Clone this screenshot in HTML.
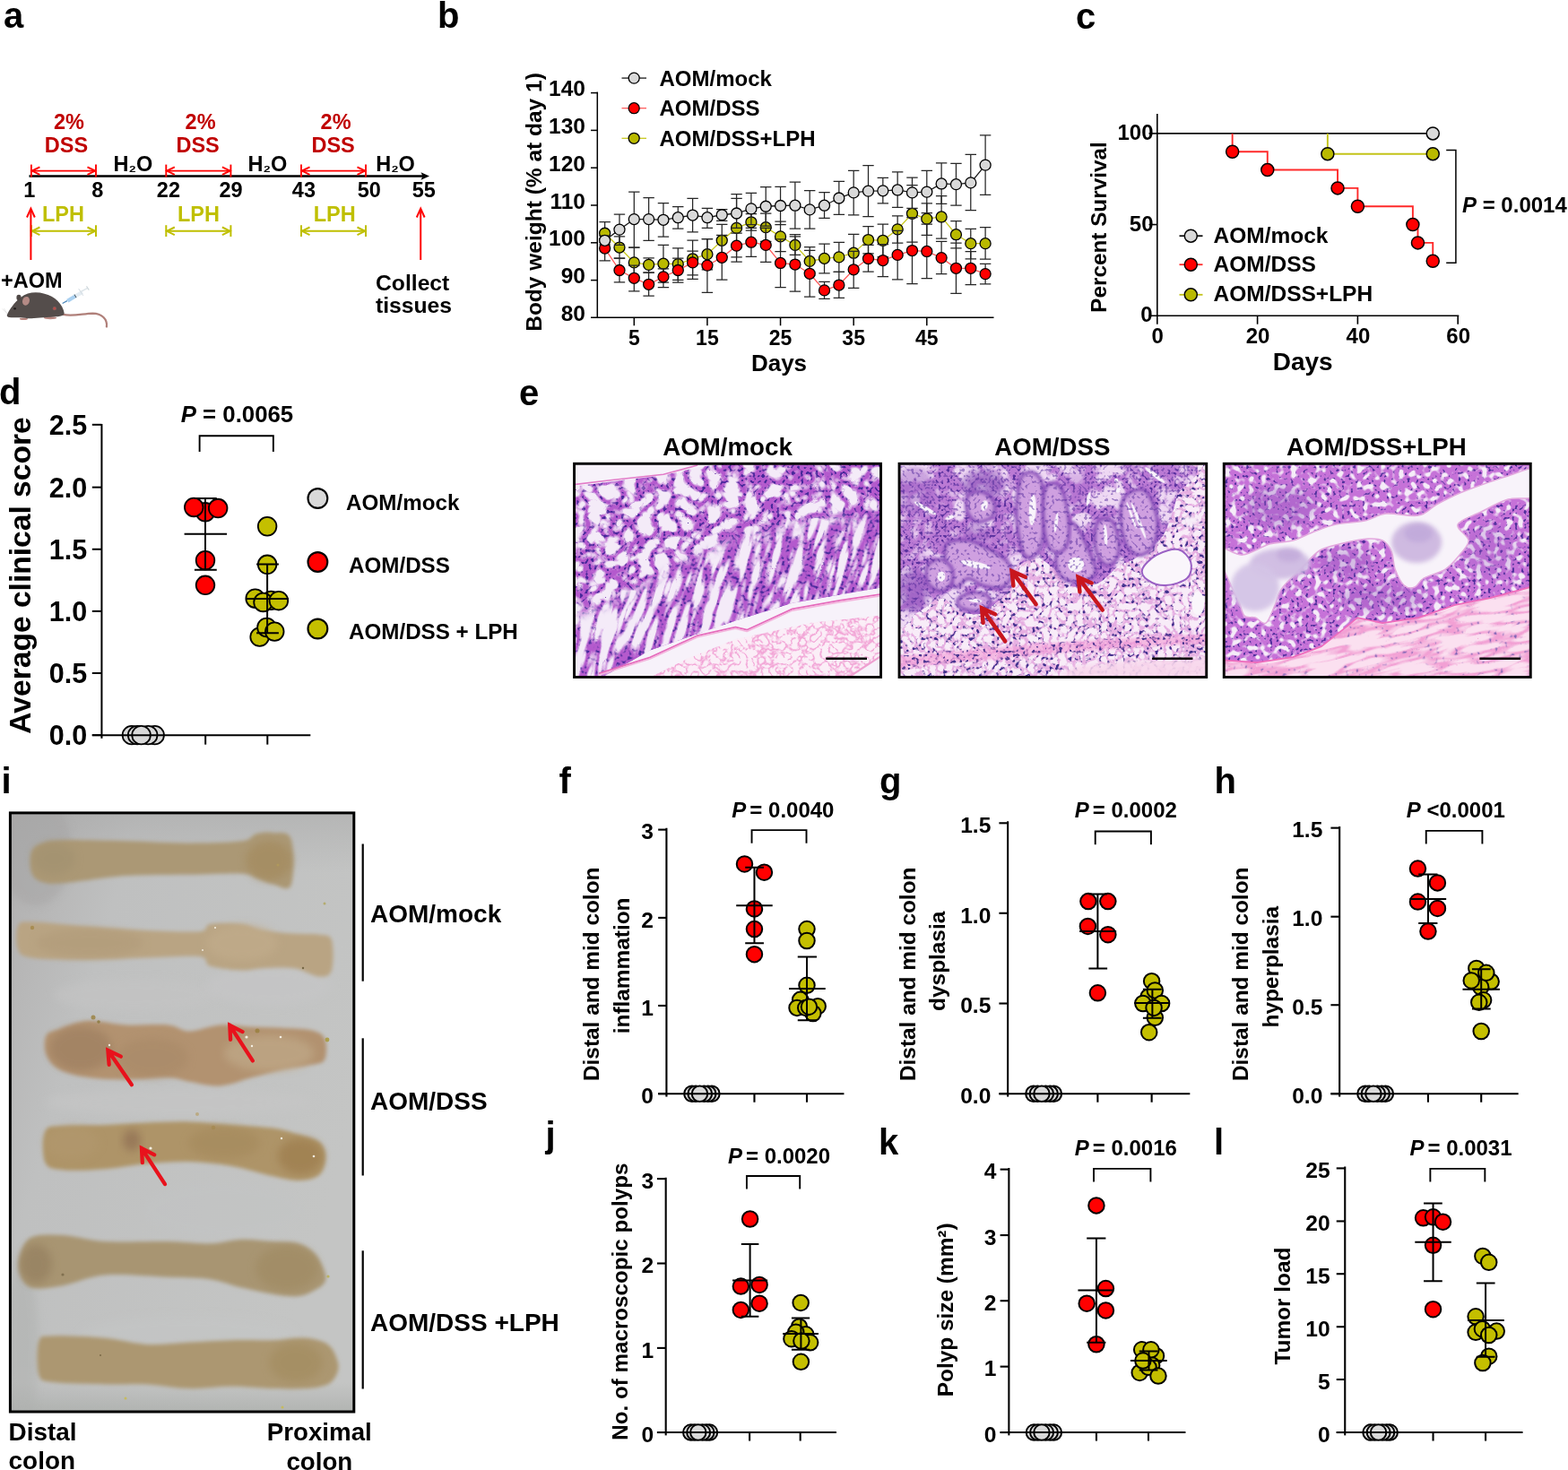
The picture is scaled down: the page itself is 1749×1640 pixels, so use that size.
<!DOCTYPE html>
<html lang="en">
<head>
<meta charset="utf-8">
<title>AOM/DSS colitis-associated tumorigenesis: effect of LPH</title>
<style>
html,body{margin:0;padding:0;background:#fff;}
body{width:1749px;height:1640px;overflow:hidden;}
svg{display:block;position:absolute;left:0;top:0;}
svg text{font-family:"Liberation Sans", Arial, Helvetica, sans-serif;font-weight:bold;}
</style>
</head>
<body>
<svg width="1749" height="1640" viewBox="0 0 1749 1640" role="img" aria-label="Figure panels a to l">
<defs>
<linearGradient id="ibg" x1="0" y1="0" x2="1" y2="0.5"><stop offset="0" stop-color="#b0afaf"/><stop offset="0.3" stop-color="#bfc0c0"/><stop offset="1" stop-color="#c4c5c4"/></linearGradient><linearGradient id="ibg2" x1="0" y1="0" x2="0" y2="1"><stop offset="0" stop-color="#a8a8a8" stop-opacity="0.5"/><stop offset="0.1" stop-color="#a8a8a8" stop-opacity="0"/><stop offset="0.95" stop-color="#a8aaa8" stop-opacity="0"/><stop offset="1" stop-color="#a4a8a4" stop-opacity="0.6"/></linearGradient>
<filter id="ibl" x="-5%" y="-20%" width="110%" height="140%"><feGaussianBlur stdDeviation="2.2"/></filter>
<filter id="ibl2" x="-30%" y="-30%" width="160%" height="160%"><feGaussianBlur stdDeviation="5"/></filter>
<clipPath id="iclip"><rect x="11" y="906.7" width="384" height="669"/></clipPath>
<filter id="eb1" x="-10%" y="-10%" width="120%" height="120%"><feGaussianBlur stdDeviation="0.7"/></filter>
<filter id="eb15" x="-10%" y="-10%" width="120%" height="120%"><feGaussianBlur stdDeviation="1.4"/></filter>
<filter id="eb2" x="-20%" y="-20%" width="140%" height="140%"><feGaussianBlur stdDeviation="2.5"/></filter>
<filter id="eb3" x="-20%" y="-20%" width="140%" height="140%"><feGaussianBlur stdDeviation="5"/></filter>
<clipPath id="ec0"><rect x="640.1" y="517" width="342.8" height="238.7"/></clipPath>
<clipPath id="h1t"><path d="M638.46 542.98L682.89 537.27L740.01 530.29L782.32 520.77L820.4 515.48L985.41 515.48L985.41 655.11L883.86 672.67L820.4 692.55L725.2 725.55L668.08 757.71L638.46 757.71Z"/></clipPath>
<mask id="h1lm" maskUnits="userSpaceOnUse" x="619.1" y="500" width="384.8" height="280"><path d="M608.84 698.47L682.89 673.09L735.78 643.47L820.4 601.16L905.02 582.12L1006.56 573.66L1006.56 787.33L608.84 787.33Z" fill="#fff" filter="url(#eb3)"/></mask>
<filter id="h1fa" x="0" y="0" width="100%" height="100%" color-interpolation-filters="sRGB"><feTurbulence type="turbulence" baseFrequency="0.052" numOctaves="2" seed="21" result="n"/><feColorMatrix in="n" type="matrix" values="0 0 0 0 0  0 0 0 0 0  0 0 0 0 0  4.6 0 0 0 -0.62" result="m"/><feFlood flood-color="#f4ebf8" result="w"/><feComposite in="w" in2="m" operator="in" result="wm"/><feFlood flood-color="#b45acd" result="p"/><feTurbulence type="fractalNoise" baseFrequency="0.3" numOctaves="1" seed="5" result="n2"/><feColorMatrix in="n2" type="matrix" values="0 0 0 0 0  0 0 0 0 0  0 0 0 0 0  0 0 9 0 -4.9" result="dm"/><feFlood flood-color="#47289a" result="df"/><feComposite in="df" in2="dm" operator="in" result="dd"/><feComposite in="dd" in2="m" operator="out" result="dw"/><feMerge><feMergeNode in="p"/><feMergeNode in="wm"/><feMergeNode in="dw"/></feMerge></filter>
<filter id="h1fb" x="0" y="0" width="100%" height="100%" color-interpolation-filters="sRGB"><feTurbulence type="turbulence" baseFrequency="0.08 0.017" numOctaves="2" seed="11" result="n"/><feColorMatrix in="n" type="matrix" values="0 0 0 0 0  0 0 0 0 0  0 0 0 0 0  4.6 0 0 0 -0.62" result="m"/><feFlood flood-color="#f4ebf8" result="w"/><feComposite in="w" in2="m" operator="in" result="wm"/><feFlood flood-color="#b45acd" result="p"/><feTurbulence type="fractalNoise" baseFrequency="0.3" numOctaves="1" seed="6" result="n2"/><feColorMatrix in="n2" type="matrix" values="0 0 0 0 0  0 0 0 0 0  0 0 0 0 0  0 0 9 0 -4.9" result="dm"/><feFlood flood-color="#47289a" result="df"/><feComposite in="df" in2="dm" operator="in" result="dd"/><feComposite in="dd" in2="m" operator="out" result="dw"/><feMerge><feMergeNode in="p"/><feMergeNode in="wm"/><feMergeNode in="dw"/></feMerge></filter>
<clipPath id="h1s"><path d="M720.97 757.71L767.51 734.44L820.4 713.28L905.02 694.67L985.41 686.2L985.41 727.03L947.33 757.71Z"/></clipPath>
<filter id="h1fs" x="0" y="0" width="100%" height="100%" color-interpolation-filters="sRGB"><feTurbulence type="turbulence" baseFrequency="0.12" numOctaves="2" seed="21" result="n"/><feColorMatrix in="n" type="matrix" values="0 0 0 0 0  0 0 0 0 0  0 0 0 0 0  4.5 0 0 0 -0.2" result="m"/><feFlood flood-color="#fbeef7" result="w"/><feComposite in="w" in2="m" operator="in" result="wm"/><feFlood flood-color="#f2a4d6" result="p"/><feMerge><feMergeNode in="p"/><feMergeNode in="wm"/></feMerge></filter>
<clipPath id="ec1"><rect x="1002.6" y="517" width="343.5" height="238.7"/></clipPath>
<filter id="h2fl" x="0" y="0" width="100%" height="100%" color-interpolation-filters="sRGB"><feTurbulence type="turbulence" baseFrequency="0.11" numOctaves="2" seed="9" result="n"/><feColorMatrix in="n" type="matrix" values="0 0 0 0 0  0 0 0 0 0  0 0 0 0 0  5.0 0 0 0 -0.62" result="m"/><feFlood flood-color="#f8ecf8" result="w"/><feComposite in="w" in2="m" operator="in" result="wm"/><feFlood flood-color="#e6aee2" result="p"/><feTurbulence type="fractalNoise" baseFrequency="0.27" numOctaves="1" seed="4" result="n2"/><feColorMatrix in="n2" type="matrix" values="0 0 0 0 0  0 0 0 0 0  0 0 0 0 0  0 0 9 0 -4.85" result="dm"/><feFlood flood-color="#3f2f8c" result="df"/><feComposite in="df" in2="dm" operator="in" result="dd"/><feComposite in="dd" in2="m" operator="out" result="dw"/><feMerge><feMergeNode in="p"/><feMergeNode in="wm"/><feMergeNode in="dw"/></feMerge></filter>
<clipPath id="h2g"><path d="M1000 515C1052.03 485.98 1260.16 508.33 1312.19 515C1364.22 521.67 1314.86 541.02 1312.19 555.02C1309.52 569.03 1303.85 587.71 1296.18 599.05C1288.51 610.39 1274.16 617.73 1266.16 623.06C1258.15 628.4 1255.15 626.4 1248.15 631.07C1241.14 635.74 1233.47 647.41 1224.13 651.08C1214.8 654.75 1200.12 655.75 1192.12 653.08C1184.11 650.41 1182.11 640.08 1176.11 635.07C1170.1 630.07 1163.43 623.06 1156.09 623.06C1148.76 623.06 1136.75 629.74 1132.08 635.07C1127.41 640.41 1132.08 648.41 1128.08 655.08C1124.07 661.75 1114.07 670.09 1108.06 675.1C1102.06 680.1 1098.73 684.1 1092.06 685.1C1085.38 686.1 1075.05 684.1 1068.04 681.1C1061.04 678.1 1057.37 666.76 1050.03 667.09C1042.69 667.42 1032.35 679.43 1024.01 683.1C1015.68 686.77 1004 717.12 1000 689.1C996 661.09 947.97 544.02 1000 515Z"/></clipPath>
<filter id="h2fa" x="0" y="0" width="100%" height="100%" color-interpolation-filters="sRGB"><feTurbulence type="turbulence" baseFrequency="0.035" numOctaves="3" seed="7" result="n"/><feColorMatrix in="n" type="matrix" values="0 0 0 0 0  0 0 0 0 0  0 0 0 0 0  4.2 0 0 0 -0.85" result="m"/><feFlood flood-color="#eed8f3" result="w"/><feComposite in="w" in2="m" operator="in" result="wm"/><feFlood flood-color="#bb7ad4" result="p"/><feTurbulence type="fractalNoise" baseFrequency="0.3" numOctaves="1" seed="8" result="n2"/><feColorMatrix in="n2" type="matrix" values="0 0 0 0 0  0 0 0 0 0  0 0 0 0 0  0 0 9 0 -5.05" result="dm"/><feFlood flood-color="#5b329f" result="df"/><feComposite in="df" in2="dm" operator="in" result="dd"/><feComposite in="dd" in2="m" operator="out" result="dw"/><feMerge><feMergeNode in="p"/><feMergeNode in="wm"/><feMergeNode in="dw"/></feMerge></filter>
<filter id="h2fn" x="0" y="0" width="100%" height="100%" color-interpolation-filters="sRGB"><feTurbulence type="fractalNoise" baseFrequency="0.3" numOctaves="1" seed="31" result="n"/><feColorMatrix in="n" type="matrix" values="0 0 0 0 0  0 0 0 0 0  0 0 0 0 0  0 0 9 0 -5.0" result="a"/><feFlood flood-color="#5a30a0" result="d"/><feComposite in="d" in2="a" operator="in"/></filter>
<filter id="h2fd" x="0" y="0" width="100%" height="100%" color-interpolation-filters="sRGB"><feTurbulence type="fractalNoise" baseFrequency="0.27" numOctaves="1" seed="19" result="n"/><feColorMatrix in="n" type="matrix" values="0 0 0 0 0  0 0 0 0 0  0 0 0 0 0  0 0 9 0 -5.2" result="a"/><feFlood flood-color="#4a3590" result="d"/><feComposite in="d" in2="a" operator="in"/></filter>
<clipPath id="h2b"><path d="M1000 732.13L1080.05 725.13L1160.1 718.12L1240.14 713.12L1352.21 707.12L1352.21 717.12L1240.14 724.13L1160.1 730.13L1080.05 738.13L1000 745.14Z"/></clipPath>
<clipPath id="ec2"><rect x="1364.8" y="517" width="342.8" height="238.7"/></clipPath>
<filter id="h3fa" x="0" y="0" width="100%" height="100%" color-interpolation-filters="sRGB"><feTurbulence type="fractalNoise" baseFrequency="0.15" numOctaves="1" seed="13" result="n"/><feColorMatrix in="n" type="matrix" values="0 0 0 0 0  0 0 0 0 0  0 0 0 0 0  7 0 0 0 -3.55" result="m"/><feFlood flood-color="#f5ecf8" result="w"/><feComposite in="w" in2="m" operator="in" result="wm"/><feFlood flood-color="#c672d8" result="p"/><feTurbulence type="fractalNoise" baseFrequency="0.3" numOctaves="1" seed="17" result="n2"/><feColorMatrix in="n2" type="matrix" values="0 0 0 0 0  0 0 0 0 0  0 0 0 0 0  0 0 9 0 -5.2" result="dm"/><feFlood flood-color="#50309c" result="df"/><feComposite in="df" in2="dm" operator="in" result="dd"/><feComposite in="dd" in2="m" operator="out" result="dw"/><feMerge><feMergeNode in="p"/><feMergeNode in="wm"/><feMergeNode in="dw"/></feMerge></filter>
<filter id="h3fm" x="0" y="0" width="100%" height="100%" color-interpolation-filters="sRGB"><feTurbulence type="turbulence" baseFrequency="0.02 0.09" numOctaves="2" seed="23" result="n"/><feColorMatrix in="n" type="matrix" values="0 0 0 0 0  0 0 0 0 0  0 0 0 0 0  4.0 0 0 0 -0.3" result="m"/><feFlood flood-color="#fbe0f0" result="w"/><feComposite in="w" in2="m" operator="in" result="wm"/><feFlood flood-color="#f2a0d4" result="p"/><feTurbulence type="fractalNoise" baseFrequency="0.25" numOctaves="1" seed="3" result="n2"/><feColorMatrix in="n2" type="matrix" values="0 0 0 0 0  0 0 0 0 0  0 0 0 0 0  0 0 9 0 -5.6" result="dm"/><feFlood flood-color="#7a62b4" result="df"/><feComposite in="df" in2="dm" operator="in" result="dd"/><feComposite in="dd" in2="m" operator="out" result="dw"/><feMerge><feMergeNode in="p"/><feMergeNode in="wm"/><feMergeNode in="dw"/></feMerge></filter>
<clipPath id="h3m"><path d="M1362 736.13L1402.02 739.13L1442.05 733.13L1474.07 721.12L1502.08 699.11L1514.09 689.1L1542.11 695.11L1582.13 689.1L1622.16 675.1L1662.18 667.09L1714.21 653.08L1714.21 763.15L1362 763.15Z"/></clipPath>
</defs>
<rect x="0" y="0" width="1749" height="1640" fill="#ffffff"/>
<rect x="11" y="906.7" width="384" height="669" fill="url(#ibg)"/><rect x="11" y="906.7" width="384" height="669" fill="url(#ibg2)"/>
<g clip-path="url(#iclip)">
<ellipse cx="210" cy="1490" rx="120" ry="22" fill="#c4c6c6" opacity="0.5" filter="url(#ibl2)"/>
<ellipse cx="250" cy="1350" rx="90" ry="30" fill="#c2c4c5" opacity="0.4" filter="url(#ibl2)"/>
<ellipse cx="150" cy="1110" rx="90" ry="18" fill="#c4c4c4" opacity="0.6" filter="url(#ibl2)"/>
<ellipse cx="300" cy="1100" rx="70" ry="22" fill="#c6c6c7" opacity="0.6" filter="url(#ibl2)"/>
<ellipse cx="200" cy="1230" rx="150" ry="16" fill="#c6c6c6" opacity="0.6" filter="url(#ibl2)"/>
<ellipse cx="40" cy="950" rx="40" ry="60" fill="#a4a3a3" opacity="0.5" filter="url(#ibl2)"/>
<ellipse cx="25" cy="1500" rx="18" ry="90" fill="#aeb0ae" opacity="0.5" filter="url(#ibl2)"/>
<g filter="url(#ibl)">
<path d="M35.16 950.09C37.12 944.62 41.02 942.86 46.88 940.71C52.74 938.56 54.7 937.58 70.32 937.19C85.95 936.8 117.21 937.78 140.65 938.37C164.09 938.95 189.48 940.71 210.97 940.71C232.46 940.71 257.07 940.12 269.57 938.37C282.08 936.61 280.12 931.72 285.98 930.16C291.84 928.6 298.29 928.01 304.74 928.99C311.18 929.97 321.34 926.25 324.66 936.02C327.98 945.79 327.98 979.19 324.66 987.59C321.34 995.99 311.18 987.79 304.74 986.42C298.29 985.05 291.84 981.34 285.98 979.39C280.12 977.43 282.08 975.29 269.57 974.7C257.07 974.11 232.46 975.48 210.97 975.87C189.48 976.26 164.09 975.48 140.65 977.04C117.21 978.61 85.95 984.08 70.32 985.25C54.7 986.42 52.74 986.03 46.88 984.08C41.02 982.12 37.12 979.19 35.16 973.53C33.21 967.86 33.21 955.56 35.16 950.09Z" fill="#ab9874"/>
<path d="M19.92 1033.3C22.46 1028.22 22.86 1028.61 35.16 1028.61C47.47 1028.61 72.28 1031.74 93.76 1033.3C115.25 1034.87 142.6 1037.01 164.09 1037.99C185.58 1038.97 210.97 1040.34 222.69 1039.16C234.41 1037.99 226.6 1032.33 234.41 1030.96C242.23 1029.59 259.81 1029.79 269.57 1030.96C279.34 1032.13 283.25 1036.23 293.01 1037.99C302.78 1039.75 317.63 1040.73 328.18 1041.51C338.72 1042.29 349.35 1041.51 356.31 1042.68C363.26 1043.85 367.64 1041.9 369.9 1048.54C372.17 1055.18 372.17 1075.69 369.9 1082.53C367.64 1089.37 363.26 1089.95 356.31 1089.56C349.35 1089.17 338.72 1081.75 328.18 1080.19C317.63 1078.62 302.78 1079.79 293.01 1080.19C283.25 1080.58 279.34 1082.92 269.57 1082.53C259.81 1082.14 242.23 1080.38 234.41 1077.84C226.6 1075.3 234.41 1068.86 222.69 1067.29C210.97 1065.73 185.58 1067.88 164.09 1068.46C142.6 1069.05 115.25 1070.81 93.76 1070.81C72.28 1070.81 47.47 1070.42 35.16 1068.46C22.86 1066.51 22.46 1064.95 19.92 1059.09C17.39 1053.23 17.39 1038.38 19.92 1033.3Z" fill="#b9a483"/>
<path d="M51.57 1155.2C53.91 1150.51 57.82 1150.9 65.64 1148.16C73.45 1145.43 85.95 1139.57 98.45 1138.79C110.95 1138.01 125.8 1142.69 140.65 1143.48C155.49 1144.26 175.81 1142.3 187.53 1143.48C199.25 1144.65 201.2 1150.51 210.97 1150.51C220.74 1150.51 234.41 1144.26 246.13 1143.48C257.85 1142.69 269.57 1145.23 281.29 1145.82C293.01 1146.41 305.52 1146.41 316.46 1146.99C327.39 1147.58 339.31 1147.38 346.93 1149.34C354.55 1151.29 359.63 1153.24 362.17 1158.71C364.71 1164.18 364.71 1177.27 362.17 1182.15C359.63 1187.04 354.55 1186.26 346.93 1188.01C339.31 1189.77 327.39 1190.36 316.46 1192.7C305.52 1195.05 293.01 1198.95 281.29 1202.08C269.57 1205.2 257.85 1210.67 246.13 1211.46C234.41 1212.24 220.74 1208.33 210.97 1206.77C201.2 1205.2 199.25 1202.47 187.53 1202.08C175.81 1201.69 155.49 1204.42 140.65 1204.42C125.8 1204.42 110.95 1204.03 98.45 1202.08C85.95 1200.13 73.45 1197 65.64 1192.7C57.82 1188.41 53.91 1182.54 51.57 1176.29C49.23 1170.04 49.23 1159.89 51.57 1155.2Z" fill="#b2926f"/>
<path d="M50.4 1261.96C53.72 1255.12 59.19 1257.27 70.32 1256.1C81.46 1254.92 101.58 1255.51 117.21 1254.92C132.83 1254.34 148.46 1253.17 164.09 1252.58C179.72 1251.99 195.34 1251.02 210.97 1251.41C226.6 1251.8 242.23 1253.75 257.85 1254.92C273.48 1256.1 292.23 1256.68 304.74 1258.44C317.24 1260.2 324.66 1263.13 332.86 1265.47C341.07 1267.82 349.08 1269.58 353.96 1272.51C358.85 1275.44 360.8 1278.56 362.17 1283.05C363.53 1287.55 363.53 1294.58 362.17 1299.46C360.8 1304.35 358.85 1309.43 353.96 1312.36C349.08 1315.29 341.07 1317.04 332.86 1317.04C324.66 1317.04 317.24 1315.09 304.74 1312.36C292.23 1309.62 273.48 1303.37 257.85 1300.64C242.23 1297.9 226.6 1296.34 210.97 1295.95C195.34 1295.56 179.72 1296.92 164.09 1298.29C148.46 1299.66 132.83 1302.98 117.21 1304.15C101.58 1305.32 81.46 1306.5 70.32 1305.32C59.19 1304.15 53.72 1304.35 50.4 1297.12C47.08 1289.89 47.08 1268.79 50.4 1261.96Z" fill="#ae9467"/>
<path d="M22.27 1400.26C24.42 1393.42 27.15 1384.05 35.16 1380.34C43.17 1376.62 56.65 1377.21 70.32 1377.99C84 1378.77 97.67 1383.85 117.21 1385.02C136.74 1386.2 167.99 1384.63 187.53 1385.02C207.06 1385.41 220.74 1387.76 234.41 1387.37C248.09 1386.98 257.85 1383.07 269.57 1382.68C281.29 1382.29 294.19 1384.24 304.74 1385.02C315.28 1385.8 325.05 1385.02 332.86 1387.37C340.68 1389.71 346.73 1393.81 351.62 1399.09C356.5 1404.36 360.41 1413.74 362.17 1419.01C363.92 1424.29 363.92 1427.41 362.17 1430.73C360.41 1434.05 356.5 1436.4 351.62 1438.94C346.73 1441.48 340.68 1445.19 332.86 1445.97C325.05 1446.75 315.28 1445.19 304.74 1443.63C294.19 1442.06 281.29 1439.33 269.57 1436.59C257.85 1433.86 248.09 1429.17 234.41 1427.22C220.74 1425.26 207.06 1425.65 187.53 1424.87C167.99 1424.09 136.74 1420.97 117.21 1422.53C97.67 1424.09 84 1431.91 70.32 1434.25C56.65 1436.59 43.17 1438.74 35.16 1436.59C27.15 1434.45 24.42 1427.41 22.27 1421.36C20.12 1415.3 20.12 1407.1 22.27 1400.26Z" fill="#a89572"/>
<path d="M43.37 1496.37C45.91 1489.14 46.3 1491.09 58.6 1490.51C70.91 1489.92 99.62 1491.29 117.21 1492.85C134.79 1494.42 148.46 1499.1 164.09 1499.89C179.72 1500.67 195.34 1498.32 210.97 1497.54C226.6 1496.76 242.23 1495.59 257.85 1495.2C273.48 1494.81 291.06 1495.59 304.74 1495.2C318.41 1494.81 329.74 1492.07 339.9 1492.85C350.05 1493.63 359.63 1495.78 365.68 1499.89C371.74 1503.99 374.47 1512.19 376.23 1517.47C377.99 1522.74 377.99 1527.04 376.23 1531.53C374.47 1536.02 371.74 1541.49 365.68 1544.42C359.63 1547.35 350.05 1548.33 339.9 1549.11C329.74 1549.89 318.41 1549.5 304.74 1549.11C291.06 1548.72 273.48 1546.77 257.85 1546.77C242.23 1546.77 226.6 1549.5 210.97 1549.11C195.34 1548.72 179.72 1545.2 164.09 1544.42C148.46 1543.64 134.79 1544.81 117.21 1544.42C99.62 1544.03 70.91 1543.84 58.6 1542.08C46.3 1540.32 45.91 1541.49 43.37 1533.87C40.83 1526.26 40.83 1503.6 43.37 1496.37Z" fill="#ac9771"/>
</g>
<ellipse cx="300" cy="960" rx="26" ry="22" fill="#a48b5f" opacity="0.75" filter="url(#ibl2)"/>
<ellipse cx="60" cy="958" rx="24" ry="18" fill="#9f8f6e" opacity="0.5" filter="url(#ibl2)"/>
<ellipse cx="90" cy="1170" rx="35" ry="25" fill="#9e7f61" opacity="0.7" filter="url(#ibl2)"/>
<ellipse cx="170" cy="1180" rx="40" ry="22" fill="#a88967" opacity="0.6" filter="url(#ibl2)"/>
<ellipse cx="300" cy="1175" rx="50" ry="20" fill="#bfa887" opacity="0.75" filter="url(#ibl2)"/>
<ellipse cx="147" cy="1272" rx="10" ry="12" fill="#947557" opacity="0.85" filter="url(#ibl2)"/>
<ellipse cx="250" cy="1275" rx="40" ry="18" fill="#a4895b" opacity="0.6" filter="url(#ibl2)"/>
<ellipse cx="335" cy="1290" rx="25" ry="20" fill="#9f7f4f" opacity="0.8" filter="url(#ibl2)"/>
<ellipse cx="80" cy="1275" rx="30" ry="18" fill="#b2996f" opacity="0.5" filter="url(#ibl2)"/>
<ellipse cx="40" cy="1410" rx="18" ry="22" fill="#947f5f" opacity="0.7" filter="url(#ibl2)"/>
<ellipse cx="320" cy="1415" rx="35" ry="25" fill="#9f8961" opacity="0.6" filter="url(#ibl2)"/>
<ellipse cx="330" cy="1520" rx="30" ry="22" fill="#a28b5d" opacity="0.6" filter="url(#ibl2)"/>
<ellipse cx="270" cy="1052" rx="40" ry="20" fill="#c1ac8b" opacity="0.7" filter="url(#ibl2)"/>
<ellipse cx="100" cy="1052" rx="60" ry="16" fill="#af9977" opacity="0.5" filter="url(#ibl2)"/>
<circle cx="36" cy="1035" r="2.2" fill="#a58a4a" opacity="0.85"/>
<circle cx="104" cy="1135" r="2.5" fill="#9b8344" opacity="0.85"/>
<circle cx="110" cy="1140" r="1.8" fill="#8d7a3e" opacity="0.85"/>
<circle cx="287" cy="1150" r="2.5" fill="#9a8040" opacity="0.85"/>
<circle cx="365" cy="1160" r="2.4" fill="#a89a3a" opacity="0.85"/>
<circle cx="338" cy="1080" r="1.2" fill="#6a5a3a" opacity="0.85"/>
<circle cx="310" cy="965" r="1.5" fill="#b09a5a" opacity="0.85"/>
<circle cx="362" cy="1008" r="1.5" fill="#b2a860" opacity="0.85"/>
<circle cx="70" cy="1422" r="1.6" fill="#7a6a4a" opacity="0.85"/>
<circle cx="238" cy="1258" r="2.2" fill="#a48a52" opacity="0.85"/>
<circle cx="140" cy="1560" r="1.5" fill="#c8bb50" opacity="0.85"/>
<circle cx="315" cy="1570" r="1.5" fill="#c8bb50" opacity="0.85"/>
<circle cx="366" cy="1424" r="1.6" fill="#b9b050" opacity="0.85"/>
<circle cx="220" cy="1243" r="2" fill="#b8a678" opacity="0.85"/>
<circle cx="112" cy="1512" r="0.9" fill="#6a5a3a" opacity="0.85"/>
<circle cx="122" cy="1166" r="1.2" fill="#fbf8ee" opacity="0.9"/>
<circle cx="275" cy="1157" r="1.6" fill="#fbf8ee" opacity="0.9"/>
<circle cx="281" cy="1167" r="1.2" fill="#fbf8ee" opacity="0.9"/>
<circle cx="313" cy="1157" r="1.3" fill="#fbf8ee" opacity="0.9"/>
<circle cx="168" cy="1281" r="1.6" fill="#fbf8ee" opacity="0.9"/>
<circle cx="314" cy="1270" r="1.2" fill="#fbf8ee" opacity="0.9"/>
<circle cx="350" cy="1290" r="1.3" fill="#fbf8ee" opacity="0.9"/>
<circle cx="240" cy="1035" r="1.0" fill="#fbf8ee" opacity="0.9"/>
<circle cx="226" cy="1060" r="0.9" fill="#fbf8ee" opacity="0.9"/>
</g>
<path d="M146.9 1210.3L120.4 1171.8M134.85 1178.68L120.4 1171.8L121.67 1187.75" stroke="#e8121c" stroke-width="4.3" fill="none" stroke-linecap="round" stroke-linejoin="miter"/>
<path d="M281.8 1183.4L256.3 1143.8M270.53 1151.12L256.3 1143.8L257.08 1159.78" stroke="#e8121c" stroke-width="4.3" fill="none" stroke-linecap="round" stroke-linejoin="miter"/>
<path d="M184 1321.1L158 1281.1M172.26 1288.36L158 1281.1L158.84 1297.08" stroke="#e8121c" stroke-width="4.3" fill="none" stroke-linecap="round" stroke-linejoin="miter"/>
<rect x="11.4" y="906.9" width="383.4" height="668.1" fill="none" stroke="#000" stroke-width="3"/>
<line x1="404.7" y1="941.5" x2="404.7" y2="1094.7" stroke="#000" stroke-width="2.2"/>
<line x1="404.7" y1="1158.3" x2="404.7" y2="1311.5" stroke="#000" stroke-width="2.2"/>
<line x1="404.7" y1="1395.3" x2="404.7" y2="1549.5" stroke="#000" stroke-width="2.2"/>
<text x="413" y="1029" font-size="28" text-anchor="start" >AOM/mock</text>
<text x="413" y="1237.8" font-size="28" text-anchor="start" >AOM/DSS</text>
<text x="413" y="1484.9" font-size="28" text-anchor="start" >AOM/DSS +LPH</text>
<text x="9.6" y="1607.4" font-size="27.9" text-anchor="start" >Distal</text>
<text x="9.6" y="1639.4" font-size="27.9" text-anchor="start" >colon</text>
<text x="356.3" y="1607.3" font-size="27.7" text-anchor="middle" >Proximal</text>
<text x="356.3" y="1640" font-size="27.7" text-anchor="middle" >colon</text>
<g clip-path="url(#ec0)">
<rect x="639.1" y="516" width="344.8" height="241" fill="#f7f2fa"/>
<g clip-path="url(#h1t)"><rect x="639.1" y="516" width="344.8" height="241" filter="url(#h1fa)" /><g mask="url(#h1lm)"><g transform="rotate(17 820.4 639.24)"><rect x="579.1" y="450" width="464.8" height="400" filter="url(#h1fb)"/></g></g></g>
<g clip-path="url(#h1s)"><rect x="639.1" y="516" width="344.8" height="241" filter="url(#h1fs)" /></g>
<path d="M668.08 751.36L725.2 733.38L778.09 709.05L820.4 699.53L833.09 702.71L883.86 679.44L936.75 669.92L985.41 662.51" fill="none" stroke="#e56abb" stroke-width="1.8" stroke-linejoin="round"/>
<path d="M668.08 753.06L725.2 735.08L778.09 710.75L820.4 701.23L833.09 704.41L883.86 681.14L936.75 671.62L985.41 664.21" fill="none" stroke="#f3b4dc" stroke-width="1.6" stroke-linejoin="round"/>
<path d="M943.09 757.71 L985.41 730.21" stroke="#eea0d0" stroke-width="2.2"/>
<path d="M638.46 540.81 L682.89 535.58 L740.01 529.23 L778.09 519.08" stroke="#e27cc8" stroke-width="1.6" fill="none"/>
</g>
<rect x="640.55" y="517.3" width="342" height="238.15" fill="none" stroke="#000" stroke-width="2.9"/>
<g clip-path="url(#ec1)">
<rect x="1001.6" y="516" width="345.5" height="241" filter="url(#h2fl)" />
<g clip-path="url(#h2g)"><rect x="1001.6" y="516" width="345.5" height="241" filter="url(#h2fa)" />
<ellipse cx="1096.06" cy="541.02" rx="24.01" ry="17.01" transform="rotate(0 1096.06 541.02)" fill="#8f5cbc" opacity="0.55" filter="url(#eb2)"/>
<ellipse cx="1020.01" cy="547.02" rx="22.01" ry="26.02" transform="rotate(0 1020.01 547.02)" fill="#a066c6" opacity="0.45" filter="url(#eb2)"/>
<ellipse cx="1018.01" cy="659.09" rx="18.01" ry="24.01" transform="rotate(0 1018.01 659.09)" fill="#8c54ba" opacity="0.5" filter="url(#eb2)"/>
<ellipse cx="1090.05" cy="595.05" rx="14.01" ry="12.01" transform="rotate(0 1090.05 595.05)" fill="#9058bc" opacity="0.4" filter="url(#eb2)"/>
<ellipse cx="1200.12" cy="545.02" rx="20.01" ry="18.01" transform="rotate(0 1200.12 545.02)" fill="#b070cf" opacity="0.35" filter="url(#eb2)"/>
</g>
<path d="M1140.08 531.01C1142.75 528.01 1148.42 525.67 1152.09 527.01C1155.76 528.34 1159.93 531.01 1162.1 539.01C1164.27 547.02 1165.27 563.36 1165.1 575.04C1164.93 586.71 1163.6 601.22 1161.1 609.06C1158.6 616.89 1153.59 621.23 1150.09 622.06C1146.59 622.9 1142.82 621.9 1140.08 614.06C1137.35 606.22 1134.35 586.54 1133.68 575.04C1133.01 563.53 1135.01 552.36 1136.08 545.02C1137.15 537.68 1137.42 534.01 1140.08 531.01Z" fill="#cfa0e0" stroke="#8448b6" stroke-width="4.4" stroke-opacity="0.8" filter="url(#eb15)"/>
<path d="M1192.12 583.04C1195.45 580.71 1198.79 584.71 1202.12 589.04C1205.46 593.38 1208.79 601.39 1212.13 609.06C1215.46 616.73 1221.47 629 1222.13 635.07C1222.8 641.14 1219.8 643.08 1216.13 645.48C1212.46 647.88 1205.46 649.81 1200.12 649.48C1194.78 649.15 1187.85 647.21 1184.11 643.48C1180.37 639.74 1178.04 633.8 1177.71 627.07C1177.37 620.33 1179.71 610.39 1182.11 603.05C1184.51 595.72 1188.78 585.38 1192.12 583.04Z" fill="#cfa0e0" stroke="#8448b6" stroke-width="4.4" stroke-opacity="0.8" filter="url(#eb15)"/>
<path d="M1224.13 583.04C1227.2 578.04 1236.14 577.37 1240.14 581.04C1244.15 584.71 1247.42 597.72 1248.15 605.05C1248.88 612.39 1247.21 621 1244.55 625.07C1241.88 629.14 1235.94 631.8 1232.14 629.47C1228.34 627.13 1223.07 618.8 1221.73 611.06C1220.4 603.32 1221.07 588.04 1224.13 583.04Z" fill="#cfa0e0" stroke="#8448b6" stroke-width="4.4" stroke-opacity="0.8" filter="url(#eb15)"/>
<path d="M1058.03 605.45C1062.44 602.79 1072.38 601.79 1080.05 603.05C1087.72 604.32 1096.72 609.06 1104.06 613.06C1111.4 617.06 1120.01 622.06 1124.07 627.07C1128.14 632.07 1129.81 638.34 1128.48 643.08C1127.14 647.81 1121.47 653.82 1116.07 655.48C1110.67 657.15 1102.06 654.75 1096.06 653.08C1090.05 651.42 1085.05 645.14 1080.05 645.48C1075.05 645.81 1070.04 656.15 1066.04 655.08C1062.04 654.02 1058.1 645.08 1056.03 639.07C1053.97 633.07 1053.3 624.67 1053.63 619.06C1053.97 613.46 1053.63 608.12 1058.03 605.45Z" fill="#cfa0e0" stroke="#8448b6" stroke-width="4.4" stroke-opacity="0.8" filter="url(#eb15)"/>
<path d="M1070.04 667.09C1072.58 664.76 1079.05 661.75 1084.05 661.09C1089.05 660.42 1096.66 661.09 1100.06 663.09C1103.46 665.09 1105.46 670.03 1104.46 673.09C1103.46 676.16 1098.46 680.3 1094.06 681.5C1089.65 682.7 1082.25 681.37 1078.05 680.3C1073.84 679.23 1070.18 677.3 1068.84 675.1C1067.51 672.89 1067.51 669.43 1070.04 667.09Z" fill="#cfa0e0" stroke="#8448b6" stroke-width="4.4" stroke-opacity="0.8" filter="url(#eb15)"/>
<path d="M1036.02 629.07C1038.86 626.23 1045.69 623.06 1050.03 624.07C1054.37 625.07 1060.2 630.57 1062.04 635.07C1063.87 639.57 1063.04 647.01 1061.04 651.08C1059.04 655.15 1054.03 659.15 1050.03 659.49C1046.03 659.82 1039.86 656.15 1037.02 653.08C1034.19 650.01 1033.19 645.08 1033.02 641.08C1032.85 637.07 1033.19 631.9 1036.02 629.07Z" fill="#cfa0e0" stroke="#8448b6" stroke-width="4.4" stroke-opacity="0.8" filter="url(#eb15)"/>
<path d="M1166.1 545.02C1168.77 538.35 1176.11 537.68 1180.11 541.02C1184.11 544.35 1188.11 555.36 1190.11 565.03C1192.12 574.7 1193.12 590.71 1192.12 599.05C1191.11 607.39 1187.78 613.06 1184.11 615.06C1180.44 617.06 1173.44 616.73 1170.1 611.06C1166.77 605.39 1164.77 592.05 1164.1 581.04C1163.43 570.03 1163.43 551.69 1166.1 545.02Z" fill="#cfa0e0" stroke="#8448b6" stroke-width="4.4" stroke-opacity="0.8" filter="url(#eb15)"/>
<path d="M1254.15 555.02C1258.49 549.02 1270.16 543.68 1276.17 547.02C1282.17 550.35 1288.17 565.36 1290.17 575.04C1292.18 584.71 1290.84 597.72 1288.17 605.05C1285.5 612.39 1279.17 618.06 1274.16 619.06C1269.16 620.06 1262.16 617.06 1258.15 611.06C1254.15 605.05 1250.82 592.38 1250.15 583.04C1249.48 573.7 1249.82 561.03 1254.15 555.02Z" fill="#cfa0e0" stroke="#8448b6" stroke-width="4.4" stroke-opacity="0.8" filter="url(#eb15)"/>
<path d="M1080.05 553.02C1082.88 549.35 1091.22 547.69 1096.06 549.02C1100.89 550.35 1107.4 556.36 1109.07 561.03C1110.73 565.7 1109.23 573.54 1106.06 577.04C1102.9 580.54 1094.56 583.04 1090.05 582.04C1085.55 581.04 1080.72 575.87 1079.05 571.03C1077.38 566.2 1077.21 556.69 1080.05 553.02Z" fill="#cfa0e0" stroke="#8448b6" stroke-width="4.4" stroke-opacity="0.8" filter="url(#eb15)"/>
<ellipse cx="1151.69" cy="569.03" rx="4" ry="17.01" transform="rotate(3 1151.69 569.03)" fill="#f9f4fb" filter="url(#eb1)"/>
<ellipse cx="1200.12" cy="630.07" rx="9.01" ry="8.41" transform="rotate(0 1200.12 630.07)" fill="#f9f4fb" filter="url(#eb1)"/>
<ellipse cx="1233.14" cy="597.05" rx="2" ry="12.01" transform="rotate(-4 1233.14 597.05)" fill="#f9f4fb" filter="url(#eb1)"/>
<ellipse cx="1178.11" cy="583.04" rx="1.8" ry="11.01" transform="rotate(8 1178.11 583.04)" fill="#f9f4fb" filter="url(#eb1)"/>
<ellipse cx="1270.16" cy="581.04" rx="1.8" ry="22.01" transform="rotate(-22 1270.16 581.04)" fill="#f9f4fb" filter="url(#eb1)"/>
<ellipse cx="1262.16" cy="575.04" rx="1.4" ry="16.01" transform="rotate(-20 1262.16 575.04)" fill="#f9f4fb" filter="url(#eb1)"/>
<ellipse cx="1088.05" cy="630.07" rx="17.01" ry="3.6" transform="rotate(12 1088.05 630.07)" fill="#f9f4fb" filter="url(#eb1)"/>
<ellipse cx="1088.05" cy="670.09" rx="7.6" ry="2" transform="rotate(5 1088.05 670.09)" fill="#f9f4fb" filter="url(#eb1)"/>
<ellipse cx="1098.06" cy="564.03" rx="3.6" ry="6" transform="rotate(15 1098.06 564.03)" fill="#f9f4fb" filter="url(#eb1)"/>
<ellipse cx="1288.17" cy="530.01" rx="14.01" ry="2.6" transform="rotate(38 1288.17 530.01)" fill="#f9f4fb" filter="url(#eb1)"/>
<ellipse cx="1247.15" cy="547.02" rx="2.8" ry="2.8" transform="rotate(0 1247.15 547.02)" fill="#f9f4fb" filter="url(#eb1)"/>
<ellipse cx="1245.15" cy="536.01" rx="2.2" ry="2.2" transform="rotate(0 1245.15 536.01)" fill="#f9f4fb" filter="url(#eb1)"/>
<ellipse cx="1032.02" cy="567.03" rx="14.01" ry="2.4" transform="rotate(30 1032.02 567.03)" fill="#f9f4fb" filter="url(#eb1)"/>
<ellipse cx="1060.04" cy="577.04" rx="6" ry="2" transform="rotate(-20 1060.04 577.04)" fill="#f9f4fb" filter="url(#eb1)"/>
<ellipse cx="1050.03" cy="643.08" rx="4.4" ry="5.6" transform="rotate(0 1050.03 643.08)" fill="#f9f4fb" filter="url(#eb1)"/>
<ellipse cx="1214.13" cy="557.03" rx="2" ry="8" transform="rotate(10 1214.13 557.03)" fill="#f9f4fb" filter="url(#eb1)"/>
<g clip-path="url(#h2g)" opacity="0.5"><rect x="1001.6" y="516" width="345.5" height="241" filter="url(#h2fn)" /></g>
<path d="M1274.16 635.07C1275.83 630.4 1283.5 622.73 1290.17 619.06C1296.84 615.39 1307.85 611.72 1314.19 613.06C1320.53 614.39 1326.53 621.73 1328.2 627.07C1329.86 632.4 1328.86 640.74 1324.19 645.08C1319.53 649.41 1307.52 652.75 1300.18 653.08C1292.84 653.42 1284.5 650.08 1280.17 647.08C1275.83 644.08 1272.5 639.74 1274.16 635.07Z" fill="#faf6fb" stroke="#9a60c4" stroke-width="2" filter="url(#eb1)"/>
<ellipse cx="1336.2" cy="673.09" rx="7" ry="13.01" transform="rotate(0 1336.2 673.09)" fill="#faf6fb" filter="url(#eb1)"/>
<ellipse cx="1328.2" cy="581.04" rx="10.01" ry="5" transform="rotate(0 1328.2 581.04)" fill="#f7eff9" filter="url(#eb2)"/>
<path d="M1000 732.13L1080.05 725.13L1160.1 718.12L1240.14 713.12L1352.21 707.12L1352.21 717.12L1240.14 724.13L1160.1 730.13L1080.05 738.13L1000 745.14Z" fill="#f29ad6" opacity="0.62" filter="url(#eb15)"/>
<g clip-path="url(#h2b)"><rect x="1001.6" y="516" width="345.5" height="241" filter="url(#h2fd)" /></g>
<path d="M1170.1 761.15L1200.12 743.14L1260.16 737.13L1352.21 733.13L1352.21 761.15Z" fill="#f8d8ec" opacity="0.9" filter="url(#eb2)"/>
<path d="M1121.2 715.4L1095.1 678.4M1110.08 685.32L1095.1 678.4L1096.6 694.83" stroke="#c8161d" stroke-width="4.5" fill="none" stroke-linecap="round" stroke-linejoin="miter"/>
<path d="M1155.6 674.1L1128.6 637.1M1143.69 643.78L1128.6 637.1L1130.36 653.51" stroke="#c8161d" stroke-width="4.5" fill="none" stroke-linecap="round" stroke-linejoin="miter"/>
<path d="M1229.7 680.5L1202.6 643.9M1217.73 650.47L1202.6 643.9L1204.47 660.29" stroke="#c8161d" stroke-width="4.5" fill="none" stroke-linecap="round" stroke-linejoin="miter"/>
</g>
<rect x="1003.05" y="517.3" width="342.7" height="238.15" fill="none" stroke="#000" stroke-width="2.9"/>
<g clip-path="url(#ec2)">
<rect x="1363.8" y="516" width="344.8" height="241" filter="url(#h3fa)" />
<ellipse cx="1428.04" cy="565.03" rx="40.02" ry="24.01" fill="#8f58bc" opacity="0.35" filter="url(#eb3)"/>
<ellipse cx="1542.11" cy="667.09" rx="50.03" ry="16.01" fill="#8a50b8" opacity="0.3" filter="url(#eb3)"/>
<ellipse cx="1662.18" cy="615.06" rx="30.02" ry="30.02" fill="#9a5cc4" opacity="0.25" filter="url(#eb3)"/>
<ellipse cx="1502.08" cy="627.07" rx="30.02" ry="16.01" fill="#8a50b8" opacity="0.3" filter="url(#eb3)"/>
<g clip-path="url(#h3m)"><g transform="rotate(-14 1542.11 725.13)"><rect x="1323.8" y="600" width="424.8" height="260" filter="url(#h3fm)"/></g></g>
<path d="M1362 736.13L1402.02 739.13L1442.05 733.13L1474.07 721.12L1502.08 699.11L1514.09 689.1L1542.11 695.11L1582.13 689.1L1622.16 675.1L1662.18 667.09L1714.21 653.08" fill="none" stroke="#ee6cbc" stroke-width="1.7" stroke-linejoin="round"/>
<path d="M1416.03 607.06C1425.37 604.39 1433.71 605.39 1442.05 603.05C1450.39 600.72 1458.06 596.05 1466.06 593.05C1474.07 590.05 1480.74 587.04 1490.08 585.04C1499.42 583.04 1512.76 583.04 1522.1 581.04C1531.43 579.04 1536.1 574.04 1546.11 573.03C1556.12 572.03 1572.79 576.7 1582.13 575.04C1591.47 573.37 1594.81 567.03 1602.14 563.03C1609.48 559.03 1617.82 554.69 1626.16 551.02C1634.5 547.35 1642.84 544.35 1652.17 541.02C1661.51 537.68 1671.85 534.01 1682.19 531.01C1692.53 528.01 1708.87 519.34 1714.21 523C1719.55 526.67 1719.55 547.35 1714.21 553.02C1708.87 558.69 1692.53 554.02 1682.19 557.03C1671.85 560.03 1661.51 566.36 1652.17 571.03C1642.84 575.7 1628.49 579.71 1626.16 585.04C1623.82 590.38 1637.83 597.38 1638.17 603.05C1638.5 608.72 1632.5 613.73 1628.16 619.06C1623.82 624.4 1618.82 630.74 1612.15 635.07C1605.48 639.41 1593.81 641.74 1588.14 645.08C1582.47 648.41 1581.8 653.75 1578.13 655.08C1574.46 656.42 1569.79 656.42 1566.12 653.08C1562.45 649.75 1558.45 641.41 1556.12 635.07C1553.78 628.73 1554.45 620.4 1552.11 615.06C1549.78 609.72 1546.44 605.39 1542.11 603.05C1537.77 600.72 1532.77 600.72 1526.1 601.05C1519.43 601.39 1510.76 603.05 1502.08 605.05C1493.41 607.06 1481.4 609.39 1474.07 613.06C1466.73 616.73 1463.39 622.06 1458.06 627.07C1452.72 632.07 1447.05 637.74 1442.05 643.08C1437.05 648.41 1431.37 653.75 1428.04 659.09C1424.7 664.42 1424.7 669.09 1422.04 675.1C1419.37 681.1 1415.7 692.77 1412.03 695.11C1408.36 697.44 1404.03 690.44 1400.02 689.1C1396.02 687.77 1391.02 690.11 1388.02 687.1C1385.01 684.1 1384.35 676.43 1382.01 671.09C1379.68 665.76 1377.34 662.42 1374.01 655.08C1370.67 647.75 1364 634.4 1362 627.07C1360 619.73 1358 612.39 1362 611.06C1366 609.72 1377.01 619.73 1386.01 619.06C1395.02 618.4 1406.69 609.72 1416.03 607.06Z" fill="#f8f3fa" stroke="#e3a8de" stroke-width="1.6" filter="url(#eb1)"/>
<ellipse cx="1580.13" cy="605.05" rx="28.02" ry="23.01" fill="#cdb8e0" opacity="0.95" filter="url(#eb2)"/>
<ellipse cx="1582.13" cy="595.05" rx="16.01" ry="10.01" fill="#c0a8da" opacity="0.8" filter="url(#eb2)"/>
<ellipse cx="1428.04" cy="629.07" rx="34.02" ry="17.01" fill="#cfbce2" opacity="0.95" filter="url(#eb2)"/>
<ellipse cx="1400.02" cy="655.08" rx="27.02" ry="27.02" fill="#d4c4e6" opacity="0.95" filter="url(#eb2)"/>
<ellipse cx="1438.05" cy="619.06" rx="14.01" ry="8" fill="#c2aada" opacity="0.8" filter="url(#eb2)"/>
</g>
<rect x="1365.25" y="517.3" width="342" height="238.15" fill="none" stroke="#000" stroke-width="2.9"/>
<text x="811.5" y="508.4" font-size="27.7" text-anchor="middle" >AOM/mock</text>
<text x="1173.8" y="508.4" font-size="27.7" text-anchor="middle" >AOM/DSS</text>
<text x="1535.3" y="508.4" font-size="27.7" text-anchor="middle" >AOM/DSS+LPH</text>
<line x1="921.3" y1="734.7" x2="967" y2="734.7" stroke="#000" stroke-width="2.4"/>
<line x1="1285.1" y1="734.7" x2="1330.4" y2="734.7" stroke="#000" stroke-width="2.4"/>
<line x1="1650.4" y1="734.7" x2="1696.1" y2="734.7" stroke="#000" stroke-width="2.4"/>
<line x1="32.5" y1="196.5" x2="472" y2="196.5" stroke="#000" stroke-width="2.7"/>
<path d="M479 196.5 L469.5 192.2 L471.5 196.5 L469.5 200.8 Z" fill="#000"/>
<line x1="34.9" y1="190.6" x2="107" y2="190.6" stroke="#ff0000" stroke-width="1.9"/>
<path d="M44.4 186.3 L35.7 190.6 L44.4 194.9" stroke="#ff0000" stroke-width="1.9" fill="none" stroke-linejoin="miter"/>
<path d="M97.5 186.3 L106.2 190.6 L97.5 194.9" stroke="#ff0000" stroke-width="1.9" fill="none" stroke-linejoin="miter"/>
<line x1="34.9" y1="183.6" x2="34.9" y2="197.5" stroke="#ff0000" stroke-width="1.9"/>
<line x1="107" y1="183.6" x2="107" y2="197.5" stroke="#ff0000" stroke-width="1.9"/>
<line x1="34.9" y1="257.8" x2="107" y2="257.8" stroke="#bfbf00" stroke-width="2"/>
<path d="M44.4 253.5 L35.7 257.8 L44.4 262.1" stroke="#bfbf00" stroke-width="2" fill="none" stroke-linejoin="miter"/>
<path d="M97.5 253.5 L106.2 257.8 L97.5 262.1" stroke="#bfbf00" stroke-width="2" fill="none" stroke-linejoin="miter"/>
<line x1="34.9" y1="251.2" x2="34.9" y2="264" stroke="#bfbf00" stroke-width="2"/>
<line x1="107" y1="251.2" x2="107" y2="264" stroke="#bfbf00" stroke-width="2"/>
<line x1="185.3" y1="190.6" x2="257.4" y2="190.6" stroke="#ff0000" stroke-width="1.9"/>
<path d="M194.8 186.3 L186.1 190.6 L194.8 194.9" stroke="#ff0000" stroke-width="1.9" fill="none" stroke-linejoin="miter"/>
<path d="M247.9 186.3 L256.6 190.6 L247.9 194.9" stroke="#ff0000" stroke-width="1.9" fill="none" stroke-linejoin="miter"/>
<line x1="185.3" y1="183.6" x2="185.3" y2="197.5" stroke="#ff0000" stroke-width="1.9"/>
<line x1="257.4" y1="183.6" x2="257.4" y2="197.5" stroke="#ff0000" stroke-width="1.9"/>
<line x1="185.3" y1="257.8" x2="257.4" y2="257.8" stroke="#bfbf00" stroke-width="2"/>
<path d="M194.8 253.5 L186.1 257.8 L194.8 262.1" stroke="#bfbf00" stroke-width="2" fill="none" stroke-linejoin="miter"/>
<path d="M247.9 253.5 L256.6 257.8 L247.9 262.1" stroke="#bfbf00" stroke-width="2" fill="none" stroke-linejoin="miter"/>
<line x1="185.3" y1="251.2" x2="185.3" y2="264" stroke="#bfbf00" stroke-width="2"/>
<line x1="257.4" y1="251.2" x2="257.4" y2="264" stroke="#bfbf00" stroke-width="2"/>
<line x1="336" y1="190.6" x2="408" y2="190.6" stroke="#ff0000" stroke-width="1.9"/>
<path d="M345.5 186.3 L336.8 190.6 L345.5 194.9" stroke="#ff0000" stroke-width="1.9" fill="none" stroke-linejoin="miter"/>
<path d="M398.5 186.3 L407.2 190.6 L398.5 194.9" stroke="#ff0000" stroke-width="1.9" fill="none" stroke-linejoin="miter"/>
<line x1="336" y1="183.6" x2="336" y2="197.5" stroke="#ff0000" stroke-width="1.9"/>
<line x1="408" y1="183.6" x2="408" y2="197.5" stroke="#ff0000" stroke-width="1.9"/>
<line x1="336" y1="257.8" x2="408" y2="257.8" stroke="#bfbf00" stroke-width="2"/>
<path d="M345.5 253.5 L336.8 257.8 L345.5 262.1" stroke="#bfbf00" stroke-width="2" fill="none" stroke-linejoin="miter"/>
<path d="M398.5 253.5 L407.2 257.8 L398.5 262.1" stroke="#bfbf00" stroke-width="2" fill="none" stroke-linejoin="miter"/>
<line x1="336" y1="251.2" x2="336" y2="264" stroke="#bfbf00" stroke-width="2"/>
<line x1="408" y1="251.2" x2="408" y2="264" stroke="#bfbf00" stroke-width="2"/>
<text x="77" y="143.8" font-size="23.5" text-anchor="middle" fill="#c00000" >2%</text>
<text x="74" y="170.4" font-size="23.5" text-anchor="middle" fill="#c00000" >DSS</text>
<text x="223.6" y="143.8" font-size="23.5" text-anchor="middle" fill="#c00000" >2%</text>
<text x="220.6" y="170.4" font-size="23.5" text-anchor="middle" fill="#c00000" >DSS</text>
<text x="374.6" y="143.8" font-size="23.5" text-anchor="middle" fill="#c00000" >2%</text>
<text x="371.6" y="170.4" font-size="23.5" text-anchor="middle" fill="#c00000" >DSS</text>
<text x="148.3" y="191.3" font-size="23.5" text-anchor="middle">H<tspan font-size="19" dy="-0.5">₂</tspan><tspan dy="0.5">O</tspan></text>
<text x="298.3" y="191.3" font-size="23.5" text-anchor="middle">H<tspan font-size="19" dy="-0.5">₂</tspan><tspan dy="0.5">O</tspan></text>
<text x="441" y="191.3" font-size="23.5" text-anchor="middle">H<tspan font-size="19" dy="-0.5">₂</tspan><tspan dy="0.5">O</tspan></text>
<text x="32.9" y="219.6" font-size="23.5" text-anchor="middle" >1</text>
<text x="108.7" y="219.6" font-size="23.5" text-anchor="middle" >8</text>
<text x="187.9" y="219.6" font-size="23.5" text-anchor="middle" >22</text>
<text x="257.5" y="219.6" font-size="23.5" text-anchor="middle" >29</text>
<text x="338.9" y="219.6" font-size="23.5" text-anchor="middle" >43</text>
<text x="411.8" y="219.6" font-size="23.5" text-anchor="middle" >50</text>
<text x="472.8" y="219.6" font-size="23.5" text-anchor="middle" >55</text>
<text x="70.4" y="246.7" font-size="23.5" text-anchor="middle" fill="#bfbf00" >LPH</text>
<text x="221.5" y="246.7" font-size="23.5" text-anchor="middle" fill="#bfbf00" >LPH</text>
<text x="373.2" y="246.7" font-size="23.5" text-anchor="middle" fill="#bfbf00" >LPH</text>
<line x1="34.4" y1="290" x2="34.4" y2="233.5" stroke="#ff0000" stroke-width="2"/>
<path d="M30 242.5 L34.4 232.6 L38.8 242.5" stroke="#ff0000" stroke-width="2" fill="none" />
<line x1="469.2" y1="290" x2="469.2" y2="233.5" stroke="#ff0000" stroke-width="2"/>
<path d="M464.8 242.5 L469.2 232.6 L473.6 242.5" stroke="#ff0000" stroke-width="2" fill="none" />
<text x="1" y="321.4" font-size="23.5" text-anchor="start" >+AOM</text>
<text x="419" y="323.6" font-size="24.7" text-anchor="start" >Collect</text>
<text x="419" y="349.4" font-size="24.7" text-anchor="start" >tissues</text>
<path d="M70.46 350.85 C80.06 353.25 92.07 350.05 103.28 349.65 C113.69 349.65 120.1 356.45 118.9 364.46" stroke="#b0807a" stroke-width="2.3" fill="none" stroke-linecap="round"/>
<path d="M69.66 338.44 L74.86 335.64" stroke="#4a86b8" stroke-width="1.2"/>
<path d="M74.06 333.88 L83.67 328.27 L85.67 331.79 L76.46 337.4 Z" fill="#a9d0f0"/>
<path d="M83.67 328.27 L90.87 324.27 L92.87 327.63 L85.67 331.79 Z" fill="#e4ecf2"/>
<path d="M83.11 328.59 L85.03 332.11" stroke="#444" stroke-width="0.9"/>
<path d="M90.47 325.23 L97.68 321.39" stroke="#dfe6ea" stroke-width="1.6"/>
<path d="M96.48 319.22 L99.28 323.63" stroke="#cfd8dc" stroke-width="1.2"/>
<path d="M87.67 322.03 L92.87 329.87" stroke="#d5dde2" stroke-width="1"/>
<ellipse cx="26.42" cy="355.81" rx="4.6" ry="1.3" fill="#b88680"/>
<ellipse cx="56.04" cy="354.69" rx="7.2" ry="1.6" fill="#b88680"/>
<path d="M7.85 351.25 C10.41 345.24 16.01 337.24 23.22 331.63 C30.42 326.03 40.03 325.23 49.64 327.63 C60.85 330.03 70.46 339.64 71.66 349.25 C72.06 353.25 64.05 353.25 56.04 353.65 C44.84 354.05 36.03 355.25 30.42 355.25 C24.02 353.25 16.01 354.85 10.41 354.05 C8.41 353.65 7.37 352.85 7.85 351.25 Z" fill="#544d4b"/>
<ellipse cx="20.98" cy="332.03" rx="2.6" ry="3.2" fill="#4e4745"/>
<ellipse cx="28.98" cy="335.8" rx="3.9" ry="5" fill="#b48a85" transform="rotate(18 28.98 335.8)"/>
<ellipse cx="16.57" cy="344.28" rx="1.5" ry="1.1" fill="#1c1717"/>
<circle cx="60.85" cy="344.2" r="2.1" fill="#8f5a58"/><circle cx="60.85" cy="344.2" r="1.1" fill="#c04a45"/>
<path d="M8.01 349.65 L2.4 344.44 M8.01 350.05 L4.4 344.04" stroke="#dcdcdc" stroke-width="0.6"/>
<path d="M674.65 247.51V272.98M668.45 247.51h12.4M668.45 272.98h12.4" stroke="#262626" stroke-width="1.25" fill="none"/>
<path d="M690.98 263.9V288.05M684.77 263.9h12.4M684.77 288.05h12.4" stroke="#262626" stroke-width="1.25" fill="none"/>
<path d="M707.3 276.05V309.71M701.1 276.05h12.4M701.1 309.71h12.4" stroke="#262626" stroke-width="1.25" fill="none"/>
<path d="M723.62 287.76V304.15M717.42 287.76h12.4M717.42 304.15h12.4" stroke="#262626" stroke-width="1.25" fill="none"/>
<path d="M739.95 273.42V315.12M733.75 273.42h12.4M733.75 315.12h12.4" stroke="#262626" stroke-width="1.25" fill="none"/>
<path d="M756.27 276.78V312.49M750.07 276.78h12.4M750.07 312.49h12.4" stroke="#262626" stroke-width="1.25" fill="none"/>
<path d="M772.6 268V311.46M766.4 268h12.4M766.4 311.46h12.4" stroke="#262626" stroke-width="1.25" fill="none"/>
<path d="M788.92 266.54V300.78M782.72 266.54h12.4M782.72 300.78h12.4" stroke="#262626" stroke-width="1.25" fill="none"/>
<path d="M805.25 250.29V286.29M799.05 250.29h12.4M799.05 286.29h12.4" stroke="#262626" stroke-width="1.25" fill="none"/>
<path d="M821.57 216.63V292.15M815.37 216.63h12.4M815.37 292.15h12.4" stroke="#262626" stroke-width="1.25" fill="none"/>
<path d="M837.9 238.59V257.03M831.7 238.59h12.4M831.7 257.03h12.4" stroke="#262626" stroke-width="1.25" fill="none"/>
<path d="M854.22 238V269.32M848.02 238h12.4M848.02 269.32h12.4" stroke="#262626" stroke-width="1.25" fill="none"/>
<path d="M870.55 247.07V280.73M864.35 247.07h12.4M864.35 280.73h12.4" stroke="#262626" stroke-width="1.25" fill="none"/>
<path d="M886.88 261.71V284.39M880.67 261.71h12.4M880.67 284.39h12.4" stroke="#262626" stroke-width="1.25" fill="none"/>
<path d="M903.2 275.61V307.07M897 275.61h12.4M897 307.07h12.4" stroke="#262626" stroke-width="1.25" fill="none"/>
<path d="M919.52 272.24V304.88M913.32 272.24h12.4M913.32 304.88h12.4" stroke="#262626" stroke-width="1.25" fill="none"/>
<path d="M935.85 270.49V303.42M929.65 270.49h12.4M929.65 303.42h12.4" stroke="#262626" stroke-width="1.25" fill="none"/>
<path d="M952.17 261.42V302.98M945.97 261.42h12.4M945.97 302.98h12.4" stroke="#262626" stroke-width="1.25" fill="none"/>
<path d="M968.5 252.63V282.93M962.3 252.63h12.4M962.3 282.93h12.4" stroke="#262626" stroke-width="1.25" fill="none"/>
<path d="M984.83 250V286.59M978.62 250h12.4M978.62 286.59h12.4" stroke="#262626" stroke-width="1.25" fill="none"/>
<path d="M1001.15 240.78V271.22M994.95 240.78h12.4M994.95 271.22h12.4" stroke="#262626" stroke-width="1.25" fill="none"/>
<path d="M1017.47 206.54V270.05M1011.27 206.54h12.4M1011.27 270.05h12.4" stroke="#262626" stroke-width="1.25" fill="none"/>
<path d="M1033.8 226.88V262.44M1027.6 226.88h12.4M1027.6 262.44h12.4" stroke="#262626" stroke-width="1.25" fill="none"/>
<path d="M1050.12 218.54V266.1M1043.92 218.54h12.4M1043.92 266.1h12.4" stroke="#262626" stroke-width="1.25" fill="none"/>
<path d="M1066.45 246.63V276.78M1060.25 246.63h12.4M1060.25 276.78h12.4" stroke="#262626" stroke-width="1.25" fill="none"/>
<path d="M1082.78 255.42V288.78M1076.58 255.42h12.4M1076.58 288.78h12.4" stroke="#262626" stroke-width="1.25" fill="none"/>
<path d="M1099.1 253.66V289.22M1092.9 253.66h12.4M1092.9 289.22h12.4" stroke="#262626" stroke-width="1.25" fill="none"/>
<polyline points="674.65,260.24 690.98,276.05 707.3,292.88 723.62,295.37 739.95,294.2 756.27,294.63 772.6,288.78 788.92,283.66 805.25,268.29 821.57,254.39 837.9,247.81 854.22,253.66 870.55,263.9 886.88,273.42 903.2,291.42 919.52,288.34 935.85,286.88 952.17,282.2 968.5,267.56 984.83,268.29 1001.15,255.85 1017.47,238.29 1033.8,244.15 1050.12,241.95 1066.45,261.71 1082.78,271.66 1099.1,271.66" fill="none" stroke="#c8c81e" stroke-width="1.3"/>
<circle cx="674.65" cy="260.24" r="6" fill="#b9b900" stroke="#000" stroke-width="1.3"/>
<circle cx="690.98" cy="276.05" r="6" fill="#b9b900" stroke="#000" stroke-width="1.3"/>
<circle cx="707.3" cy="292.88" r="6" fill="#b9b900" stroke="#000" stroke-width="1.3"/>
<circle cx="723.62" cy="295.37" r="6" fill="#b9b900" stroke="#000" stroke-width="1.3"/>
<circle cx="739.95" cy="294.2" r="6" fill="#b9b900" stroke="#000" stroke-width="1.3"/>
<circle cx="756.27" cy="294.63" r="6" fill="#b9b900" stroke="#000" stroke-width="1.3"/>
<circle cx="772.6" cy="288.78" r="6" fill="#b9b900" stroke="#000" stroke-width="1.3"/>
<circle cx="788.92" cy="283.66" r="6" fill="#b9b900" stroke="#000" stroke-width="1.3"/>
<circle cx="805.25" cy="268.29" r="6" fill="#b9b900" stroke="#000" stroke-width="1.3"/>
<circle cx="821.57" cy="254.39" r="6" fill="#b9b900" stroke="#000" stroke-width="1.3"/>
<circle cx="837.9" cy="247.81" r="6" fill="#b9b900" stroke="#000" stroke-width="1.3"/>
<circle cx="854.22" cy="253.66" r="6" fill="#b9b900" stroke="#000" stroke-width="1.3"/>
<circle cx="870.55" cy="263.9" r="6" fill="#b9b900" stroke="#000" stroke-width="1.3"/>
<circle cx="886.88" cy="273.42" r="6" fill="#b9b900" stroke="#000" stroke-width="1.3"/>
<circle cx="903.2" cy="291.42" r="6" fill="#b9b900" stroke="#000" stroke-width="1.3"/>
<circle cx="919.52" cy="288.34" r="6" fill="#b9b900" stroke="#000" stroke-width="1.3"/>
<circle cx="935.85" cy="286.88" r="6" fill="#b9b900" stroke="#000" stroke-width="1.3"/>
<circle cx="952.17" cy="282.2" r="6" fill="#b9b900" stroke="#000" stroke-width="1.3"/>
<circle cx="968.5" cy="267.56" r="6" fill="#b9b900" stroke="#000" stroke-width="1.3"/>
<circle cx="984.83" cy="268.29" r="6" fill="#b9b900" stroke="#000" stroke-width="1.3"/>
<circle cx="1001.15" cy="255.85" r="6" fill="#b9b900" stroke="#000" stroke-width="1.3"/>
<circle cx="1017.47" cy="238.29" r="6" fill="#b9b900" stroke="#000" stroke-width="1.3"/>
<circle cx="1033.8" cy="244.15" r="6" fill="#b9b900" stroke="#000" stroke-width="1.3"/>
<circle cx="1050.12" cy="241.95" r="6" fill="#b9b900" stroke="#000" stroke-width="1.3"/>
<circle cx="1066.45" cy="261.71" r="6" fill="#b9b900" stroke="#000" stroke-width="1.3"/>
<circle cx="1082.78" cy="271.66" r="6" fill="#b9b900" stroke="#000" stroke-width="1.3"/>
<circle cx="1099.1" cy="271.66" r="6" fill="#b9b900" stroke="#000" stroke-width="1.3"/>
<path d="M674.65 263.17V290.98M668.45 263.17h12.4M668.45 290.98h12.4" stroke="#262626" stroke-width="1.25" fill="none"/>
<path d="M690.98 288.05V314.83M684.77 288.05h12.4M684.77 314.83h12.4" stroke="#262626" stroke-width="1.25" fill="none"/>
<path d="M707.3 296.1V324.93M701.1 296.1h12.4M701.1 324.93h12.4" stroke="#262626" stroke-width="1.25" fill="none"/>
<path d="M723.62 304.15V330.2M717.42 304.15h12.4M717.42 330.2h12.4" stroke="#262626" stroke-width="1.25" fill="none"/>
<path d="M739.95 299.76V320.68M733.75 299.76h12.4M733.75 320.68h12.4" stroke="#262626" stroke-width="1.25" fill="none"/>
<path d="M756.27 288.05V315.12M750.07 288.05h12.4M750.07 315.12h12.4" stroke="#262626" stroke-width="1.25" fill="none"/>
<path d="M772.6 280V306.78M766.4 280h12.4M766.4 306.78h12.4" stroke="#262626" stroke-width="1.25" fill="none"/>
<path d="M788.92 266.54V326.39M782.72 266.54h12.4M782.72 326.39h12.4" stroke="#262626" stroke-width="1.25" fill="none"/>
<path d="M805.25 262.44V312.2M799.05 262.44h12.4M799.05 312.2h12.4" stroke="#262626" stroke-width="1.25" fill="none"/>
<path d="M821.57 260.24V286.88M815.37 260.24h12.4M815.37 286.88h12.4" stroke="#262626" stroke-width="1.25" fill="none"/>
<path d="M837.9 254.39V286.29M831.7 254.39h12.4M831.7 286.29h12.4" stroke="#262626" stroke-width="1.25" fill="none"/>
<path d="M854.22 254.39V292.44M848.02 254.39h12.4M848.02 292.44h12.4" stroke="#262626" stroke-width="1.25" fill="none"/>
<path d="M870.55 266.83V320.68M864.35 266.83h12.4M864.35 320.68h12.4" stroke="#262626" stroke-width="1.25" fill="none"/>
<path d="M886.88 263.9V325.07M880.67 263.9h12.4M880.67 325.07h12.4" stroke="#262626" stroke-width="1.25" fill="none"/>
<path d="M903.2 279.27V331.22M897 279.27h12.4M897 331.22h12.4" stroke="#262626" stroke-width="1.25" fill="none"/>
<path d="M919.52 314.39V333.42M913.32 314.39h12.4M913.32 333.42h12.4" stroke="#262626" stroke-width="1.25" fill="none"/>
<path d="M935.85 303.42V332.39M929.65 303.42h12.4M929.65 332.39h12.4" stroke="#262626" stroke-width="1.25" fill="none"/>
<path d="M952.17 280.44V321.27M945.97 280.44h12.4M945.97 321.27h12.4" stroke="#262626" stroke-width="1.25" fill="none"/>
<path d="M968.5 273.42V303.12M962.3 273.42h12.4M962.3 303.12h12.4" stroke="#262626" stroke-width="1.25" fill="none"/>
<path d="M984.83 272.68V308.54M978.62 272.68h12.4M978.62 308.54h12.4" stroke="#262626" stroke-width="1.25" fill="none"/>
<path d="M1001.15 257.32V311.76M994.95 257.32h12.4M994.95 311.76h12.4" stroke="#262626" stroke-width="1.25" fill="none"/>
<path d="M1017.47 242.68V316.59M1011.27 242.68h12.4M1011.27 316.59h12.4" stroke="#262626" stroke-width="1.25" fill="none"/>
<path d="M1033.8 250V310.73M1027.6 250h12.4M1027.6 310.73h12.4" stroke="#262626" stroke-width="1.25" fill="none"/>
<path d="M1050.12 269.32V305.61M1043.92 269.32h12.4M1043.92 305.61h12.4" stroke="#262626" stroke-width="1.25" fill="none"/>
<path d="M1066.45 271.22V327.27M1060.25 271.22h12.4M1060.25 327.27h12.4" stroke="#262626" stroke-width="1.25" fill="none"/>
<path d="M1082.78 280.73V317.61M1076.58 280.73h12.4M1076.58 317.61h12.4" stroke="#262626" stroke-width="1.25" fill="none"/>
<path d="M1099.1 294.34V316.88M1092.9 294.34h12.4M1092.9 316.88h12.4" stroke="#262626" stroke-width="1.25" fill="none"/>
<polyline points="674.65,277.07 690.98,301.51 707.3,310.29 723.62,317.32 739.95,308.83 756.27,301.51 772.6,292.88 788.92,296.1 805.25,287.32 821.57,274.15 837.9,270.2 854.22,273.42 870.55,293.46 886.88,295.07 903.2,305.32 919.52,323.9 935.85,318.05 952.17,300.78 968.5,288.49 984.83,290.54 1001.15,284.39 1017.47,279.56 1033.8,280.44 1050.12,287.61 1066.45,299.32 1082.78,299.32 1099.1,305.61" fill="none" stroke="#ff5a5a" stroke-width="1.3"/>
<circle cx="674.65" cy="277.07" r="6" fill="#ff0000" stroke="#000" stroke-width="1.3"/>
<circle cx="690.98" cy="301.51" r="6" fill="#ff0000" stroke="#000" stroke-width="1.3"/>
<circle cx="707.3" cy="310.29" r="6" fill="#ff0000" stroke="#000" stroke-width="1.3"/>
<circle cx="723.62" cy="317.32" r="6" fill="#ff0000" stroke="#000" stroke-width="1.3"/>
<circle cx="739.95" cy="308.83" r="6" fill="#ff0000" stroke="#000" stroke-width="1.3"/>
<circle cx="756.27" cy="301.51" r="6" fill="#ff0000" stroke="#000" stroke-width="1.3"/>
<circle cx="772.6" cy="292.88" r="6" fill="#ff0000" stroke="#000" stroke-width="1.3"/>
<circle cx="788.92" cy="296.1" r="6" fill="#ff0000" stroke="#000" stroke-width="1.3"/>
<circle cx="805.25" cy="287.32" r="6" fill="#ff0000" stroke="#000" stroke-width="1.3"/>
<circle cx="821.57" cy="274.15" r="6" fill="#ff0000" stroke="#000" stroke-width="1.3"/>
<circle cx="837.9" cy="270.2" r="6" fill="#ff0000" stroke="#000" stroke-width="1.3"/>
<circle cx="854.22" cy="273.42" r="6" fill="#ff0000" stroke="#000" stroke-width="1.3"/>
<circle cx="870.55" cy="293.46" r="6" fill="#ff0000" stroke="#000" stroke-width="1.3"/>
<circle cx="886.88" cy="295.07" r="6" fill="#ff0000" stroke="#000" stroke-width="1.3"/>
<circle cx="903.2" cy="305.32" r="6" fill="#ff0000" stroke="#000" stroke-width="1.3"/>
<circle cx="919.52" cy="323.9" r="6" fill="#ff0000" stroke="#000" stroke-width="1.3"/>
<circle cx="935.85" cy="318.05" r="6" fill="#ff0000" stroke="#000" stroke-width="1.3"/>
<circle cx="952.17" cy="300.78" r="6" fill="#ff0000" stroke="#000" stroke-width="1.3"/>
<circle cx="968.5" cy="288.49" r="6" fill="#ff0000" stroke="#000" stroke-width="1.3"/>
<circle cx="984.83" cy="290.54" r="6" fill="#ff0000" stroke="#000" stroke-width="1.3"/>
<circle cx="1001.15" cy="284.39" r="6" fill="#ff0000" stroke="#000" stroke-width="1.3"/>
<circle cx="1017.47" cy="279.56" r="6" fill="#ff0000" stroke="#000" stroke-width="1.3"/>
<circle cx="1033.8" cy="280.44" r="6" fill="#ff0000" stroke="#000" stroke-width="1.3"/>
<circle cx="1050.12" cy="287.61" r="6" fill="#ff0000" stroke="#000" stroke-width="1.3"/>
<circle cx="1066.45" cy="299.32" r="6" fill="#ff0000" stroke="#000" stroke-width="1.3"/>
<circle cx="1082.78" cy="299.32" r="6" fill="#ff0000" stroke="#000" stroke-width="1.3"/>
<circle cx="1099.1" cy="305.61" r="6" fill="#ff0000" stroke="#000" stroke-width="1.3"/>
<path d="M674.65 266.1V270.49M668.45 266.1h12.4M668.45 270.49h12.4" stroke="#262626" stroke-width="1.25" fill="none"/>
<path d="M690.98 239.02V273.42M684.77 239.02h12.4M684.77 273.42h12.4" stroke="#262626" stroke-width="1.25" fill="none"/>
<path d="M707.3 214.15V276.05M701.1 214.15h12.4M701.1 276.05h12.4" stroke="#262626" stroke-width="1.25" fill="none"/>
<path d="M723.62 220.73V268.29M717.42 220.73h12.4M717.42 268.29h12.4" stroke="#262626" stroke-width="1.25" fill="none"/>
<path d="M739.95 226.59V264.2M733.75 226.59h12.4M733.75 264.2h12.4" stroke="#262626" stroke-width="1.25" fill="none"/>
<path d="M756.27 230.54V255.12M750.07 230.54h12.4M750.07 255.12h12.4" stroke="#262626" stroke-width="1.25" fill="none"/>
<path d="M772.6 221.46V258.78M766.4 221.46h12.4M766.4 258.78h12.4" stroke="#262626" stroke-width="1.25" fill="none"/>
<path d="M788.92 232.44V254.39M782.72 232.44h12.4M782.72 254.39h12.4" stroke="#262626" stroke-width="1.25" fill="none"/>
<path d="M805.25 233.61V246.34M799.05 233.61h12.4M799.05 246.34h12.4" stroke="#262626" stroke-width="1.25" fill="none"/>
<path d="M821.57 221.46V254.39M815.37 221.46h12.4M815.37 254.39h12.4" stroke="#262626" stroke-width="1.25" fill="none"/>
<path d="M837.9 215.32V250.73M831.7 215.32h12.4M831.7 250.73h12.4" stroke="#262626" stroke-width="1.25" fill="none"/>
<path d="M854.22 208.73V252.2M848.02 208.73h12.4M848.02 252.2h12.4" stroke="#262626" stroke-width="1.25" fill="none"/>
<path d="M870.55 208.29V250.73M864.35 208.29h12.4M864.35 250.73h12.4" stroke="#262626" stroke-width="1.25" fill="none"/>
<path d="M886.88 203.17V255.12M880.67 203.17h12.4M880.67 255.12h12.4" stroke="#262626" stroke-width="1.25" fill="none"/>
<path d="M903.2 212.68V255.12M897 212.68h12.4M897 255.12h12.4" stroke="#262626" stroke-width="1.25" fill="none"/>
<path d="M919.52 214.59V243.42M913.32 214.59h12.4M913.32 243.42h12.4" stroke="#262626" stroke-width="1.25" fill="none"/>
<path d="M935.85 202.44V239.32M929.65 202.44h12.4M929.65 239.32h12.4" stroke="#262626" stroke-width="1.25" fill="none"/>
<path d="M952.17 190.29V239.76M945.97 190.29h12.4M945.97 239.76h12.4" stroke="#262626" stroke-width="1.25" fill="none"/>
<path d="M968.5 184.59V241.51M962.3 184.59h12.4M962.3 241.51h12.4" stroke="#262626" stroke-width="1.25" fill="none"/>
<path d="M984.83 198.49V226.88M978.62 198.49h12.4M978.62 226.88h12.4" stroke="#262626" stroke-width="1.25" fill="none"/>
<path d="M1001.15 191.9V231.27M994.95 191.9h12.4M994.95 231.27h12.4" stroke="#262626" stroke-width="1.25" fill="none"/>
<path d="M1017.47 198.05V232.44M1011.27 198.05h12.4M1011.27 232.44h12.4" stroke="#262626" stroke-width="1.25" fill="none"/>
<path d="M1033.8 190.44V237.56M1027.6 190.44h12.4M1027.6 237.56h12.4" stroke="#262626" stroke-width="1.25" fill="none"/>
<path d="M1050.12 181.95V227.32M1043.92 181.95h12.4M1043.92 227.32h12.4" stroke="#262626" stroke-width="1.25" fill="none"/>
<path d="M1066.45 182.39V229.07M1060.25 182.39h12.4M1060.25 229.07h12.4" stroke="#262626" stroke-width="1.25" fill="none"/>
<path d="M1082.78 172.44V234.63M1076.58 172.44h12.4M1076.58 234.63h12.4" stroke="#262626" stroke-width="1.25" fill="none"/>
<path d="M1099.1 150.93V217.37M1092.9 150.93h12.4M1092.9 217.37h12.4" stroke="#262626" stroke-width="1.25" fill="none"/>
<polyline points="674.65,268.29 690.98,256.15 707.3,244.59 723.62,244.59 739.95,245.32 756.27,242.68 772.6,240.05 788.92,242.68 805.25,239.76 821.57,238 837.9,232.88 854.22,230.24 870.55,229.51 886.88,229.22 903.2,233.9 919.52,229.22 935.85,221.02 952.17,214.88 968.5,213.12 984.83,212.83 1001.15,211.95 1017.47,214.88 1033.8,214.15 1050.12,204.93 1066.45,205.66 1082.78,203.9 1099.1,184.15" fill="none" stroke="#1a1a1a" stroke-width="1.3"/>
<circle cx="674.65" cy="268.29" r="6" fill="#d9d9d9" stroke="#000" stroke-width="1.3"/>
<circle cx="690.98" cy="256.15" r="6" fill="#d9d9d9" stroke="#000" stroke-width="1.3"/>
<circle cx="707.3" cy="244.59" r="6" fill="#d9d9d9" stroke="#000" stroke-width="1.3"/>
<circle cx="723.62" cy="244.59" r="6" fill="#d9d9d9" stroke="#000" stroke-width="1.3"/>
<circle cx="739.95" cy="245.32" r="6" fill="#d9d9d9" stroke="#000" stroke-width="1.3"/>
<circle cx="756.27" cy="242.68" r="6" fill="#d9d9d9" stroke="#000" stroke-width="1.3"/>
<circle cx="772.6" cy="240.05" r="6" fill="#d9d9d9" stroke="#000" stroke-width="1.3"/>
<circle cx="788.92" cy="242.68" r="6" fill="#d9d9d9" stroke="#000" stroke-width="1.3"/>
<circle cx="805.25" cy="239.76" r="6" fill="#d9d9d9" stroke="#000" stroke-width="1.3"/>
<circle cx="821.57" cy="238" r="6" fill="#d9d9d9" stroke="#000" stroke-width="1.3"/>
<circle cx="837.9" cy="232.88" r="6" fill="#d9d9d9" stroke="#000" stroke-width="1.3"/>
<circle cx="854.22" cy="230.24" r="6" fill="#d9d9d9" stroke="#000" stroke-width="1.3"/>
<circle cx="870.55" cy="229.51" r="6" fill="#d9d9d9" stroke="#000" stroke-width="1.3"/>
<circle cx="886.88" cy="229.22" r="6" fill="#d9d9d9" stroke="#000" stroke-width="1.3"/>
<circle cx="903.2" cy="233.9" r="6" fill="#d9d9d9" stroke="#000" stroke-width="1.3"/>
<circle cx="919.52" cy="229.22" r="6" fill="#d9d9d9" stroke="#000" stroke-width="1.3"/>
<circle cx="935.85" cy="221.02" r="6" fill="#d9d9d9" stroke="#000" stroke-width="1.3"/>
<circle cx="952.17" cy="214.88" r="6" fill="#d9d9d9" stroke="#000" stroke-width="1.3"/>
<circle cx="968.5" cy="213.12" r="6" fill="#d9d9d9" stroke="#000" stroke-width="1.3"/>
<circle cx="984.83" cy="212.83" r="6" fill="#d9d9d9" stroke="#000" stroke-width="1.3"/>
<circle cx="1001.15" cy="211.95" r="6" fill="#d9d9d9" stroke="#000" stroke-width="1.3"/>
<circle cx="1017.47" cy="214.88" r="6" fill="#d9d9d9" stroke="#000" stroke-width="1.3"/>
<circle cx="1033.8" cy="214.15" r="6" fill="#d9d9d9" stroke="#000" stroke-width="1.3"/>
<circle cx="1050.12" cy="204.93" r="6" fill="#d9d9d9" stroke="#000" stroke-width="1.3"/>
<circle cx="1066.45" cy="205.66" r="6" fill="#d9d9d9" stroke="#000" stroke-width="1.3"/>
<circle cx="1082.78" cy="203.9" r="6" fill="#d9d9d9" stroke="#000" stroke-width="1.3"/>
<circle cx="1099.1" cy="184.15" r="6" fill="#d9d9d9" stroke="#000" stroke-width="1.3"/>
<line x1="666.3" y1="102.6" x2="666.3" y2="355.05" stroke="#000" stroke-width="1.5"/>
<line x1="659" y1="354.3" x2="1108.5" y2="354.3" stroke="#000" stroke-width="1.5"/>
<line x1="659" y1="103.6" x2="666.3" y2="103.6" stroke="#000" stroke-width="1.5"/>
<text x="653" y="107.2" font-size="24.5" text-anchor="end" >140</text>
<line x1="659" y1="145.4" x2="666.3" y2="145.4" stroke="#000" stroke-width="1.5"/>
<text x="653" y="149" font-size="24.5" text-anchor="end" >130</text>
<line x1="659" y1="187.2" x2="666.3" y2="187.2" stroke="#000" stroke-width="1.5"/>
<text x="653" y="190.8" font-size="24.5" text-anchor="end" >120</text>
<line x1="659" y1="229" x2="666.3" y2="229" stroke="#000" stroke-width="1.5"/>
<text x="653" y="232.6" font-size="24.5" text-anchor="end" >110</text>
<line x1="659" y1="270.8" x2="666.3" y2="270.8" stroke="#000" stroke-width="1.5"/>
<text x="653" y="274.4" font-size="24.5" text-anchor="end" >100</text>
<line x1="659" y1="312.6" x2="666.3" y2="312.6" stroke="#000" stroke-width="1.5"/>
<text x="653" y="316.2" font-size="24.5" text-anchor="end" >90</text>
<text x="653" y="357.9" font-size="24.5" text-anchor="end" >80</text>
<line x1="707.3" y1="354.3" x2="707.3" y2="363.3" stroke="#000" stroke-width="1.5"/>
<text x="707.3" y="384.5" font-size="23" text-anchor="middle" >5</text>
<line x1="788.92" y1="354.3" x2="788.92" y2="363.3" stroke="#000" stroke-width="1.5"/>
<text x="788.92" y="384.5" font-size="23" text-anchor="middle" >15</text>
<line x1="870.55" y1="354.3" x2="870.55" y2="363.3" stroke="#000" stroke-width="1.5"/>
<text x="870.55" y="384.5" font-size="23" text-anchor="middle" >25</text>
<line x1="952.17" y1="354.3" x2="952.17" y2="363.3" stroke="#000" stroke-width="1.5"/>
<text x="952.17" y="384.5" font-size="23" text-anchor="middle" >35</text>
<line x1="1033.8" y1="354.3" x2="1033.8" y2="363.3" stroke="#000" stroke-width="1.5"/>
<text x="1033.8" y="384.5" font-size="23" text-anchor="middle" >45</text>
<text x="869" y="413.5" font-size="26" text-anchor="middle" >Days</text>
<text x="603.6" y="225.5" font-size="24.5" text-anchor="middle" transform="rotate(-90 603.6 225.5)" >Body weight (% at day 1)</text>
<line x1="693.5" y1="87.1" x2="721" y2="87.1" stroke="#1a1a1a" stroke-width="1.3"/>
<circle cx="707.2" cy="87.1" r="6" fill="#d9d9d9" stroke="#000" stroke-width="1.3"/>
<text x="735.5" y="95.6" font-size="24" text-anchor="start" >AOM/mock</text>
<line x1="693.5" y1="120.7" x2="721" y2="120.7" stroke="#ff5a5a" stroke-width="1.3"/>
<circle cx="707.2" cy="120.7" r="6" fill="#ff0000" stroke="#000" stroke-width="1.3"/>
<text x="735.5" y="129.2" font-size="24" text-anchor="start" >AOM/DSS</text>
<line x1="693.5" y1="154.3" x2="721" y2="154.3" stroke="#c8c81e" stroke-width="1.3"/>
<circle cx="707.2" cy="154.3" r="6" fill="#b9b900" stroke="#000" stroke-width="1.3"/>
<text x="735.5" y="162.8" font-size="24" text-anchor="start" >AOM/DSS+LPH</text>
<line x1="1290.8" y1="148.9" x2="1598.25" y2="148.9" stroke="#111" stroke-width="1.6"/>
<path d="M1480.86 148.9 V171.7 H1598.25" stroke="#c3c31a" stroke-width="1.9" fill="none" />
<path d="M1374.65 148.9 H1374.65 V169.23 H1413.78 V189.56 H1492.04 V209.89 H1514.4 V230.22 H1575.89 V250.55 H1581.48 V270.88 H1598.25 V291.21" stroke="#ff2a2a" stroke-width="1.9" fill="none" />
<circle cx="1374.65" cy="169.23" r="7" fill="#ff0000" stroke="#000" stroke-width="1.5"/>
<circle cx="1413.78" cy="189.56" r="7" fill="#ff0000" stroke="#000" stroke-width="1.5"/>
<circle cx="1492.04" cy="209.89" r="7" fill="#ff0000" stroke="#000" stroke-width="1.5"/>
<circle cx="1514.4" cy="230.22" r="7" fill="#ff0000" stroke="#000" stroke-width="1.5"/>
<circle cx="1575.89" cy="250.55" r="7" fill="#ff0000" stroke="#000" stroke-width="1.5"/>
<circle cx="1581.48" cy="270.88" r="7" fill="#ff0000" stroke="#000" stroke-width="1.5"/>
<circle cx="1598.25" cy="291.21" r="7" fill="#ff0000" stroke="#000" stroke-width="1.5"/>
<circle cx="1480.86" cy="171.7" r="7" fill="#b9b900" stroke="#000" stroke-width="1.5"/>
<circle cx="1598.25" cy="171.7" r="7" fill="#b9b900" stroke="#000" stroke-width="1.5"/>
<circle cx="1598.25" cy="148.9" r="7" fill="#d9d9d9" stroke="#000" stroke-width="1.5"/>
<line x1="1290.8" y1="127" x2="1290.8" y2="353" stroke="#000" stroke-width="1.6"/>
<line x1="1281.5" y1="352.2" x2="1627.3" y2="352.2" stroke="#000" stroke-width="1.6"/>
<line x1="1281.5" y1="148.9" x2="1290.8" y2="148.9" stroke="#000" stroke-width="1.6"/>
<line x1="1281.5" y1="250.55" x2="1290.8" y2="250.55" stroke="#000" stroke-width="1.6"/>
<text x="1286.5" y="156.1" font-size="24" text-anchor="end" >100</text>
<text x="1286.5" y="257.75" font-size="24" text-anchor="end" >50</text>
<text x="1285.5" y="359.4" font-size="24" text-anchor="end" >0</text>
<line x1="1290.8" y1="352.2" x2="1290.8" y2="361.7" stroke="#000" stroke-width="1.6"/>
<text x="1291.3" y="382.6" font-size="24" text-anchor="middle" >0</text>
<line x1="1402.6" y1="352.2" x2="1402.6" y2="361.7" stroke="#000" stroke-width="1.6"/>
<text x="1403.1" y="382.6" font-size="24" text-anchor="middle" >20</text>
<line x1="1514.4" y1="352.2" x2="1514.4" y2="361.7" stroke="#000" stroke-width="1.6"/>
<text x="1514.9" y="382.6" font-size="24" text-anchor="middle" >40</text>
<line x1="1626.2" y1="352.2" x2="1626.2" y2="361.7" stroke="#000" stroke-width="1.6"/>
<text x="1626.7" y="382.6" font-size="24" text-anchor="middle" >60</text>
<text x="1453.2" y="412.8" font-size="28" text-anchor="middle" >Days</text>
<text x="1233.5" y="253.5" font-size="24.3" text-anchor="middle" transform="rotate(-90 1233.5 253.5)" >Percent Survival</text>
<path d="M1613.2 167.5 H1623.9 V293.3 H1613.2" stroke="#000" stroke-width="1.5" fill="none" />
<text x="1631" y="237" font-size="24" text-anchor="start" xml:space="preserve"><tspan font-style="italic">P</tspan><tspan> = 0.0014</tspan></text>
<line x1="1315.5" y1="263.2" x2="1341.5" y2="263.2" stroke="#111" stroke-width="1.8"/>
<circle cx="1328.3" cy="263.2" r="7" fill="#d9d9d9" stroke="#000" stroke-width="1.5"/>
<text x="1353.5" y="270.8" font-size="24.5" text-anchor="start" >AOM/mock</text>
<line x1="1315.5" y1="295.2" x2="1341.5" y2="295.2" stroke="#ff2a2a" stroke-width="1.8"/>
<circle cx="1328.3" cy="295.2" r="7" fill="#ff0000" stroke="#000" stroke-width="1.5"/>
<text x="1353.5" y="302.8" font-size="24.5" text-anchor="start" >AOM/DSS</text>
<line x1="1315.5" y1="328.8" x2="1341.5" y2="328.8" stroke="#c3c31a" stroke-width="1.8"/>
<circle cx="1328.3" cy="328.8" r="7" fill="#b9b900" stroke="#000" stroke-width="1.5"/>
<text x="1353.5" y="336.4" font-size="24.5" text-anchor="start" >AOM/DSS+LPH</text>
<circle cx="146.93" cy="820.14" r="10.3" fill="#d9d9d9" stroke="#000" stroke-width="1.8"/>
<circle cx="172.63" cy="820.14" r="10.3" fill="#d9d9d9" stroke="#000" stroke-width="1.8"/>
<circle cx="153.14" cy="820.14" r="10.3" fill="#d9d9d9" stroke="#000" stroke-width="1.8"/>
<circle cx="165.19" cy="820.14" r="10.3" fill="#d9d9d9" stroke="#000" stroke-width="1.8"/>
<circle cx="157.57" cy="820.14" r="10.3" fill="#d9d9d9" stroke="#000" stroke-width="1.8"/>
<circle cx="229" cy="571.29" r="10.3" fill="#ff0000" stroke="#000" stroke-width="1.8"/>
<circle cx="216.24" cy="565.97" r="10.3" fill="#ff0000" stroke="#000" stroke-width="1.8"/>
<circle cx="243.18" cy="567.04" r="10.3" fill="#ff0000" stroke="#000" stroke-width="1.8"/>
<circle cx="229" cy="625.17" r="10.3" fill="#ff0000" stroke="#000" stroke-width="1.8"/>
<circle cx="229" cy="652.82" r="10.3" fill="#ff0000" stroke="#000" stroke-width="1.8"/>
<circle cx="298.12" cy="587.24" r="10.3" fill="#c4bf00" stroke="#000" stroke-width="1.8"/>
<circle cx="298.12" cy="629.78" r="10.3" fill="#c4bf00" stroke="#000" stroke-width="1.8"/>
<circle cx="284.65" cy="667.71" r="10.3" fill="#c4bf00" stroke="#000" stroke-width="1.8"/>
<circle cx="302.38" cy="669.84" r="10.3" fill="#c4bf00" stroke="#000" stroke-width="1.8"/>
<circle cx="293.51" cy="671.96" r="10.3" fill="#c4bf00" stroke="#000" stroke-width="1.8"/>
<circle cx="310.88" cy="670.19" r="10.3" fill="#c4bf00" stroke="#000" stroke-width="1.8"/>
<circle cx="289.61" cy="710.6" r="10.3" fill="#c4bf00" stroke="#000" stroke-width="1.8"/>
<circle cx="297.41" cy="699.97" r="10.3" fill="#c4bf00" stroke="#000" stroke-width="1.8"/>
<circle cx="306.27" cy="704.58" r="10.3" fill="#c4bf00" stroke="#000" stroke-width="1.8"/>
<path d="M229 556.05V635.81M216.94 556.05H241.76M216.94 635.81H241.76M205.6 595.75H253.1" stroke="#000" stroke-width="2" fill="none" />
<path d="M298.12 629.43V706.35M286.07 629.43H310.88M286.07 706.35H310.88M274.73 668.06H321.87" stroke="#000" stroke-width="2" fill="none" />
<line x1="113.43" y1="473.1" x2="113.43" y2="821.14" stroke="#000" stroke-width="2"/>
<line x1="102.8" y1="820.14" x2="346.33" y2="820.14" stroke="#000" stroke-width="2"/>
<line x1="102.8" y1="473.81" x2="113.43" y2="473.81" stroke="#000" stroke-width="2"/>
<text x="97.13" y="484.73" font-size="30.5" text-anchor="end" >2.5</text>
<line x1="102.8" y1="543.64" x2="113.43" y2="543.64" stroke="#000" stroke-width="2"/>
<text x="97.13" y="554.56" font-size="30.5" text-anchor="end" >2.0</text>
<line x1="102.8" y1="612.76" x2="113.43" y2="612.76" stroke="#000" stroke-width="2"/>
<text x="97.13" y="623.68" font-size="30.5" text-anchor="end" >1.5</text>
<line x1="102.8" y1="681.89" x2="113.43" y2="681.89" stroke="#000" stroke-width="2"/>
<text x="97.13" y="692.81" font-size="30.5" text-anchor="end" >1.0</text>
<line x1="102.8" y1="751.01" x2="113.43" y2="751.01" stroke="#000" stroke-width="2"/>
<text x="97.13" y="761.93" font-size="30.5" text-anchor="end" >0.5</text>
<line x1="102.8" y1="820.14" x2="113.43" y2="820.14" stroke="#000" stroke-width="2"/>
<text x="97.13" y="831.06" font-size="30.5" text-anchor="end" >0.0</text>
<line x1="229.17" y1="820.14" x2="229.17" y2="830.64" stroke="#000" stroke-width="2"/>
<line x1="298.3" y1="820.14" x2="298.3" y2="830.64" stroke="#000" stroke-width="2"/>
<line x1="113.43" y1="820.14" x2="113.43" y2="823.81" stroke="#000" stroke-width="2"/>
<path d="M222.62 503.94V486.21H304.86V503.94" stroke="#000" stroke-width="1.9" fill="none" />
<text x="201.7" y="470.62" font-size="25.8" text-anchor="start" xml:space="preserve"><tspan font-style="italic">P</tspan><tspan> = 0.0065</tspan></text>
<text x="33.5" y="642" font-size="33.6" text-anchor="middle" transform="rotate(-90 33.5 642)" >Average clinical score</text>
<circle cx="354.4" cy="556" r="10.9" fill="#d9d9d9" stroke="#000" stroke-width="2.1"/>
<text x="386" y="569.2" font-size="24.2" text-anchor="start" >AOM/mock</text>
<circle cx="354.4" cy="627" r="10.9" fill="#ff0000" stroke="#000" stroke-width="2.1"/>
<text x="389" y="638.5" font-size="24.2" text-anchor="start" >AOM/DSS</text>
<circle cx="354.4" cy="701.5" r="10.9" fill="#c4bf00" stroke="#000" stroke-width="2.1"/>
<text x="389" y="713" font-size="24.2" text-anchor="start" >AOM/DSS + LPH</text>
<circle cx="771.95" cy="1220.24" r="8.75" fill="#d9d9d9" stroke="#000" stroke-width="2"/>
<circle cx="793.9" cy="1220.24" r="8.75" fill="#d9d9d9" stroke="#000" stroke-width="2"/>
<circle cx="776.1" cy="1220.24" r="8.75" fill="#d9d9d9" stroke="#000" stroke-width="2"/>
<circle cx="789.76" cy="1220.24" r="8.75" fill="#d9d9d9" stroke="#000" stroke-width="2"/>
<circle cx="785.37" cy="1220.24" r="8.75" fill="#d9d9d9" stroke="#000" stroke-width="2"/>
<circle cx="780.49" cy="1220.24" r="8.75" fill="#d9d9d9" stroke="#000" stroke-width="2"/>
<circle cx="830.49" cy="963.9" r="8.75" fill="#ff0000" stroke="#000" stroke-width="2"/>
<circle cx="852.44" cy="973.17" r="8.75" fill="#ff0000" stroke="#000" stroke-width="2"/>
<circle cx="841.46" cy="1013.9" r="8.75" fill="#ff0000" stroke="#000" stroke-width="2"/>
<circle cx="841.46" cy="1036.59" r="8.75" fill="#ff0000" stroke="#000" stroke-width="2"/>
<circle cx="841.46" cy="1064.63" r="8.75" fill="#ff0000" stroke="#000" stroke-width="2"/>
<circle cx="900" cy="1036.59" r="8.75" fill="#c4bf00" stroke="#000" stroke-width="2"/>
<circle cx="900" cy="1049.51" r="8.75" fill="#c4bf00" stroke="#000" stroke-width="2"/>
<circle cx="900" cy="1099.27" r="8.75" fill="#c4bf00" stroke="#000" stroke-width="2"/>
<circle cx="892.68" cy="1115.37" r="8.75" fill="#c4bf00" stroke="#000" stroke-width="2"/>
<circle cx="889.02" cy="1124.39" r="8.75" fill="#c4bf00" stroke="#000" stroke-width="2"/>
<circle cx="912.2" cy="1122.68" r="8.75" fill="#c4bf00" stroke="#000" stroke-width="2"/>
<circle cx="906.83" cy="1130.49" r="8.75" fill="#c4bf00" stroke="#000" stroke-width="2"/>
<circle cx="898.78" cy="1124.39" r="8.75" fill="#c4bf00" stroke="#000" stroke-width="2"/>
<circle cx="902.44" cy="1123.17" r="8.75" fill="#c4bf00" stroke="#000" stroke-width="2"/>
<path d="M841.46 967.8V1052.2M831.22 967.8H851.95M831.22 1052.2H851.95M821.22 1010.24H861.71" stroke="#000" stroke-width="2" fill="none" />
<path d="M900 1067.56V1138.29M889.76 1067.56H910.98M889.76 1138.29H910.98M880 1102.93H920.73" stroke="#000" stroke-width="2" fill="none" />
<line x1="743.41" y1="923.66" x2="743.41" y2="1221.29" stroke="#000" stroke-width="2.1"/>
<line x1="734.15" y1="1220.24" x2="941.46" y2="1220.24" stroke="#000" stroke-width="2.1"/>
<line x1="734.15" y1="925.61" x2="743.41" y2="925.61" stroke="#000" stroke-width="2.1"/>
<text x="729.02" y="936.42" font-size="24.6" text-anchor="end" >3</text>
<line x1="734.15" y1="1023.9" x2="743.41" y2="1023.9" stroke="#000" stroke-width="2.1"/>
<text x="729.02" y="1034.71" font-size="24.6" text-anchor="end" >2</text>
<line x1="734.15" y1="1121.95" x2="743.41" y2="1121.95" stroke="#000" stroke-width="2.1"/>
<text x="729.02" y="1132.76" font-size="24.6" text-anchor="end" >1</text>
<line x1="734.15" y1="1220.24" x2="743.41" y2="1220.24" stroke="#000" stroke-width="2.1"/>
<text x="729.02" y="1231.05" font-size="24.6" text-anchor="end" >0</text>
<line x1="841.46" y1="1220.24" x2="841.46" y2="1229.74" stroke="#000" stroke-width="2.1"/>
<line x1="900" y1="1220.24" x2="900" y2="1229.74" stroke="#000" stroke-width="2.1"/>
<line x1="743.41" y1="1220.24" x2="743.41" y2="1223.57" stroke="#000" stroke-width="2.1"/>
<path d="M838.54 940.73V926.1H899.51V940.73" stroke="#000" stroke-width="1.9" fill="none" />
<text x="816.34" y="911.71" font-size="24" text-anchor="start" xml:space="preserve"><tspan font-style="italic">P</tspan><tspan dx="4">= 0.0040</tspan></text>
<text x="668" y="1086.8" font-size="24.4" text-anchor="middle" transform="rotate(-90 668 1086.8)" >Distal and mid colon</text>
<text x="702" y="1077.4" font-size="24.4" text-anchor="middle" transform="rotate(-90 702 1077.4)" >inflammation</text>
<circle cx="1152.93" cy="1220.24" r="8.75" fill="#d9d9d9" stroke="#000" stroke-width="2"/>
<circle cx="1175.37" cy="1220.24" r="8.75" fill="#d9d9d9" stroke="#000" stroke-width="2"/>
<circle cx="1157.32" cy="1220.24" r="8.75" fill="#d9d9d9" stroke="#000" stroke-width="2"/>
<circle cx="1171.22" cy="1220.24" r="8.75" fill="#d9d9d9" stroke="#000" stroke-width="2"/>
<circle cx="1166.34" cy="1220.24" r="8.75" fill="#d9d9d9" stroke="#000" stroke-width="2"/>
<circle cx="1161.95" cy="1220.24" r="8.75" fill="#d9d9d9" stroke="#000" stroke-width="2"/>
<circle cx="1213.9" cy="1005.61" r="8.75" fill="#ff0000" stroke="#000" stroke-width="2"/>
<circle cx="1235.85" cy="1005.61" r="8.75" fill="#ff0000" stroke="#000" stroke-width="2"/>
<circle cx="1213.41" cy="1033.41" r="8.75" fill="#ff0000" stroke="#000" stroke-width="2"/>
<circle cx="1235.85" cy="1042.68" r="8.75" fill="#ff0000" stroke="#000" stroke-width="2"/>
<circle cx="1224.39" cy="1107.8" r="8.75" fill="#ff0000" stroke="#000" stroke-width="2"/>
<circle cx="1284.63" cy="1094.63" r="8.75" fill="#c4bf00" stroke="#000" stroke-width="2"/>
<circle cx="1280.98" cy="1112.2" r="8.75" fill="#c4bf00" stroke="#000" stroke-width="2"/>
<circle cx="1288.29" cy="1104.88" r="8.75" fill="#c4bf00" stroke="#000" stroke-width="2"/>
<circle cx="1295.61" cy="1119.51" r="8.75" fill="#c4bf00" stroke="#000" stroke-width="2"/>
<circle cx="1274.88" cy="1119.51" r="8.75" fill="#c4bf00" stroke="#000" stroke-width="2"/>
<circle cx="1288.29" cy="1135.37" r="8.75" fill="#c4bf00" stroke="#000" stroke-width="2"/>
<circle cx="1287.07" cy="1124.39" r="8.75" fill="#c4bf00" stroke="#000" stroke-width="2"/>
<circle cx="1281.71" cy="1151.71" r="8.75" fill="#c4bf00" stroke="#000" stroke-width="2"/>
<path d="M1224.39 997.56V1080.49M1214.39 997.56H1235.12M1214.39 1080.49H1235.12M1204.15 1039.02H1245.12" stroke="#000" stroke-width="2" fill="none" />
<path d="M1285.37 1103.66V1135.85M1274.88 1103.66H1295.61M1274.88 1135.85H1295.61M1265.12 1119.02H1304.15" stroke="#000" stroke-width="2" fill="none" />
<line x1="1124.15" y1="916.34" x2="1124.15" y2="1221.29" stroke="#000" stroke-width="2.1"/>
<line x1="1114.39" y1="1220.24" x2="1327.32" y2="1220.24" stroke="#000" stroke-width="2.1"/>
<line x1="1114.39" y1="918.29" x2="1124.15" y2="918.29" stroke="#000" stroke-width="2.1"/>
<text x="1105.37" y="929.1" font-size="24.6" text-anchor="end" >1.5</text>
<line x1="1114.39" y1="1018.78" x2="1124.15" y2="1018.78" stroke="#000" stroke-width="2.1"/>
<text x="1105.37" y="1029.59" font-size="24.6" text-anchor="end" >1.0</text>
<line x1="1114.39" y1="1119.51" x2="1124.15" y2="1119.51" stroke="#000" stroke-width="2.1"/>
<text x="1105.37" y="1130.32" font-size="24.6" text-anchor="end" >0.5</text>
<line x1="1114.39" y1="1220.24" x2="1124.15" y2="1220.24" stroke="#000" stroke-width="2.1"/>
<text x="1105.37" y="1231.05" font-size="24.6" text-anchor="end" >0.0</text>
<line x1="1224.39" y1="1220.24" x2="1224.39" y2="1229.74" stroke="#000" stroke-width="2.1"/>
<line x1="1284.63" y1="1220.24" x2="1284.63" y2="1229.74" stroke="#000" stroke-width="2.1"/>
<line x1="1124.15" y1="1220.24" x2="1124.15" y2="1223.57" stroke="#000" stroke-width="2.1"/>
<path d="M1221.71 942.2V927.56H1283.9V942.2" stroke="#000" stroke-width="1.9" fill="none" />
<text x="1198.78" y="912.2" font-size="24" text-anchor="start" xml:space="preserve"><tspan font-style="italic">P</tspan><tspan dx="4">= 0.0002</tspan></text>
<text x="1021" y="1086.8" font-size="24.4" text-anchor="middle" transform="rotate(-90 1021 1086.8)" >Distal and mid colon</text>
<text x="1054.5" y="1072.3" font-size="24.4" text-anchor="middle" transform="rotate(-90 1054.5 1072.3)" >dysplasia</text>
<circle cx="1522.93" cy="1220.24" r="8.75" fill="#d9d9d9" stroke="#000" stroke-width="2"/>
<circle cx="1545.37" cy="1220.24" r="8.75" fill="#d9d9d9" stroke="#000" stroke-width="2"/>
<circle cx="1527.32" cy="1220.24" r="8.75" fill="#d9d9d9" stroke="#000" stroke-width="2"/>
<circle cx="1541.22" cy="1220.24" r="8.75" fill="#d9d9d9" stroke="#000" stroke-width="2"/>
<circle cx="1536.34" cy="1220.24" r="8.75" fill="#d9d9d9" stroke="#000" stroke-width="2"/>
<circle cx="1531.95" cy="1220.24" r="8.75" fill="#d9d9d9" stroke="#000" stroke-width="2"/>
<circle cx="1581.46" cy="969.02" r="8.75" fill="#ff0000" stroke="#000" stroke-width="2"/>
<circle cx="1603.41" cy="984.88" r="8.75" fill="#ff0000" stroke="#000" stroke-width="2"/>
<circle cx="1581.46" cy="1006.1" r="8.75" fill="#ff0000" stroke="#000" stroke-width="2"/>
<circle cx="1603.41" cy="1013.41" r="8.75" fill="#ff0000" stroke="#000" stroke-width="2"/>
<circle cx="1592.93" cy="1039.02" r="8.75" fill="#ff0000" stroke="#000" stroke-width="2"/>
<circle cx="1646.83" cy="1080.49" r="8.75" fill="#c4bf00" stroke="#000" stroke-width="2"/>
<circle cx="1663.17" cy="1095.12" r="8.75" fill="#c4bf00" stroke="#000" stroke-width="2"/>
<circle cx="1651.71" cy="1101.22" r="8.75" fill="#c4bf00" stroke="#000" stroke-width="2"/>
<circle cx="1657.8" cy="1085.37" r="8.75" fill="#c4bf00" stroke="#000" stroke-width="2"/>
<circle cx="1641.22" cy="1093.9" r="8.75" fill="#c4bf00" stroke="#000" stroke-width="2"/>
<circle cx="1654.63" cy="1115.85" r="8.75" fill="#c4bf00" stroke="#000" stroke-width="2"/>
<circle cx="1649.76" cy="1118.29" r="8.75" fill="#c4bf00" stroke="#000" stroke-width="2"/>
<circle cx="1652.2" cy="1150.49" r="8.75" fill="#c4bf00" stroke="#000" stroke-width="2"/>
<path d="M1592.93 975.61V1030M1582.2 975.61H1603.41M1582.2 1030H1603.41M1572.44 1002.93H1613.17" stroke="#000" stroke-width="2" fill="none" />
<path d="M1652.2 1081.22V1125.61M1641.95 1081.22H1662.68M1641.95 1125.61H1662.68M1631.46 1103.66H1672.93" stroke="#000" stroke-width="2" fill="none" />
<line x1="1494.15" y1="921.95" x2="1494.15" y2="1221.29" stroke="#000" stroke-width="2.1"/>
<line x1="1484.39" y1="1220.24" x2="1693.66" y2="1220.24" stroke="#000" stroke-width="2.1"/>
<line x1="1484.39" y1="923.66" x2="1494.15" y2="923.66" stroke="#000" stroke-width="2.1"/>
<text x="1475.37" y="934.47" font-size="24.6" text-anchor="end" >1.5</text>
<line x1="1484.39" y1="1022.68" x2="1494.15" y2="1022.68" stroke="#000" stroke-width="2.1"/>
<text x="1475.37" y="1033.49" font-size="24.6" text-anchor="end" >1.0</text>
<line x1="1484.39" y1="1121.22" x2="1494.15" y2="1121.22" stroke="#000" stroke-width="2.1"/>
<text x="1475.37" y="1132.03" font-size="24.6" text-anchor="end" >0.5</text>
<line x1="1484.39" y1="1220.24" x2="1494.15" y2="1220.24" stroke="#000" stroke-width="2.1"/>
<text x="1475.37" y="1231.05" font-size="24.6" text-anchor="end" >0.0</text>
<line x1="1592.93" y1="1220.24" x2="1592.93" y2="1229.74" stroke="#000" stroke-width="2.1"/>
<line x1="1652.2" y1="1220.24" x2="1652.2" y2="1229.74" stroke="#000" stroke-width="2.1"/>
<line x1="1494.15" y1="1220.24" x2="1494.15" y2="1223.57" stroke="#000" stroke-width="2.1"/>
<path d="M1590.73 941.46V926.83H1653.41V941.46" stroke="#000" stroke-width="1.9" fill="none" />
<text x="1568.78" y="912.2" font-size="24" text-anchor="start" xml:space="preserve"><tspan font-style="italic">P</tspan><tspan> &lt;0.0001</tspan></text>
<text x="1392.5" y="1086.8" font-size="24.4" text-anchor="middle" transform="rotate(-90 1392.5 1086.8)" >Distal and mid colon</text>
<text x="1426" y="1078.7" font-size="24.4" text-anchor="middle" transform="rotate(-90 1426 1078.7)" >hyperplasia</text>
<circle cx="770.73" cy="1598.05" r="8.75" fill="#d9d9d9" stroke="#000" stroke-width="2"/>
<circle cx="791.46" cy="1598.05" r="8.75" fill="#d9d9d9" stroke="#000" stroke-width="2"/>
<circle cx="774.88" cy="1598.05" r="8.75" fill="#d9d9d9" stroke="#000" stroke-width="2"/>
<circle cx="787.8" cy="1598.05" r="8.75" fill="#d9d9d9" stroke="#000" stroke-width="2"/>
<circle cx="783.41" cy="1598.05" r="8.75" fill="#d9d9d9" stroke="#000" stroke-width="2"/>
<circle cx="778.78" cy="1598.05" r="8.75" fill="#d9d9d9" stroke="#000" stroke-width="2"/>
<circle cx="836.59" cy="1360" r="8.75" fill="#ff0000" stroke="#000" stroke-width="2"/>
<circle cx="826.34" cy="1435.12" r="8.75" fill="#ff0000" stroke="#000" stroke-width="2"/>
<circle cx="847.07" cy="1433.41" r="8.75" fill="#ff0000" stroke="#000" stroke-width="2"/>
<circle cx="847.07" cy="1454.15" r="8.75" fill="#ff0000" stroke="#000" stroke-width="2"/>
<circle cx="826.34" cy="1461.46" r="8.75" fill="#ff0000" stroke="#000" stroke-width="2"/>
<circle cx="893.17" cy="1453.41" r="8.75" fill="#c4bf00" stroke="#000" stroke-width="2"/>
<circle cx="891.46" cy="1480.24" r="8.75" fill="#c4bf00" stroke="#000" stroke-width="2"/>
<circle cx="898.78" cy="1488.78" r="8.75" fill="#c4bf00" stroke="#000" stroke-width="2"/>
<circle cx="887.8" cy="1486.34" r="8.75" fill="#c4bf00" stroke="#000" stroke-width="2"/>
<circle cx="903.66" cy="1497.8" r="8.75" fill="#c4bf00" stroke="#000" stroke-width="2"/>
<circle cx="882.93" cy="1493.66" r="8.75" fill="#c4bf00" stroke="#000" stroke-width="2"/>
<circle cx="893.9" cy="1496.1" r="8.75" fill="#c4bf00" stroke="#000" stroke-width="2"/>
<circle cx="893.41" cy="1519.27" r="8.75" fill="#c4bf00" stroke="#000" stroke-width="2"/>
<path d="M836.59 1388.05V1468.78M826.83 1388.05H846.34M826.83 1468.78H846.34M817.07 1428.54H856.1" stroke="#000" stroke-width="2" fill="none" />
<path d="M893.41 1470.49V1505.85M882.93 1470.49H903.17M882.93 1505.85H903.17M873.17 1488.05H912.93" stroke="#000" stroke-width="2" fill="none" />
<line x1="742.68" y1="1313.66" x2="742.68" y2="1599.1" stroke="#000" stroke-width="2.1"/>
<line x1="732.93" y1="1598.05" x2="932.93" y2="1598.05" stroke="#000" stroke-width="2.1"/>
<line x1="732.93" y1="1315.12" x2="742.68" y2="1315.12" stroke="#000" stroke-width="2.1"/>
<text x="729.27" y="1325.93" font-size="24.6" text-anchor="end" >3</text>
<line x1="732.93" y1="1409.51" x2="742.68" y2="1409.51" stroke="#000" stroke-width="2.1"/>
<text x="729.27" y="1420.32" font-size="24.6" text-anchor="end" >2</text>
<line x1="732.93" y1="1503.9" x2="742.68" y2="1503.9" stroke="#000" stroke-width="2.1"/>
<text x="729.27" y="1514.71" font-size="24.6" text-anchor="end" >1</text>
<line x1="732.93" y1="1598.05" x2="742.68" y2="1598.05" stroke="#000" stroke-width="2.1"/>
<text x="729.27" y="1608.86" font-size="24.6" text-anchor="end" >0</text>
<line x1="836.1" y1="1598.05" x2="836.1" y2="1607.55" stroke="#000" stroke-width="2.1"/>
<line x1="892.68" y1="1598.05" x2="892.68" y2="1607.55" stroke="#000" stroke-width="2.1"/>
<line x1="742.68" y1="1598.05" x2="742.68" y2="1601.37" stroke="#000" stroke-width="2.1"/>
<path d="M832.93 1326.59V1311.95H892.2V1326.59" stroke="#000" stroke-width="1.9" fill="none" />
<text x="811.95" y="1297.8" font-size="24" text-anchor="start" xml:space="preserve"><tspan font-style="italic">P</tspan><tspan dx="4">= 0.0020</tspan></text>
<text x="700" y="1452.2" font-size="24.2" text-anchor="middle" transform="rotate(-90 700 1452.2)" >No. of macroscopic polyps</text>
<circle cx="1153.41" cy="1598.05" r="8.75" fill="#d9d9d9" stroke="#000" stroke-width="2"/>
<circle cx="1175.37" cy="1598.05" r="8.75" fill="#d9d9d9" stroke="#000" stroke-width="2"/>
<circle cx="1157.8" cy="1598.05" r="8.75" fill="#d9d9d9" stroke="#000" stroke-width="2"/>
<circle cx="1171.22" cy="1598.05" r="8.75" fill="#d9d9d9" stroke="#000" stroke-width="2"/>
<circle cx="1166.34" cy="1598.05" r="8.75" fill="#d9d9d9" stroke="#000" stroke-width="2"/>
<circle cx="1161.95" cy="1598.05" r="8.75" fill="#d9d9d9" stroke="#000" stroke-width="2"/>
<circle cx="1222.93" cy="1344.88" r="8.75" fill="#ff0000" stroke="#000" stroke-width="2"/>
<circle cx="1233.41" cy="1437.56" r="8.75" fill="#ff0000" stroke="#000" stroke-width="2"/>
<circle cx="1212.2" cy="1454.15" r="8.75" fill="#ff0000" stroke="#000" stroke-width="2"/>
<circle cx="1233.41" cy="1461.95" r="8.75" fill="#ff0000" stroke="#000" stroke-width="2"/>
<circle cx="1222.93" cy="1499.76" r="8.75" fill="#ff0000" stroke="#000" stroke-width="2"/>
<circle cx="1273.66" cy="1505.85" r="8.75" fill="#c4bf00" stroke="#000" stroke-width="2"/>
<circle cx="1289.51" cy="1512.68" r="8.75" fill="#c4bf00" stroke="#000" stroke-width="2"/>
<circle cx="1284.63" cy="1522.93" r="8.75" fill="#c4bf00" stroke="#000" stroke-width="2"/>
<circle cx="1283.9" cy="1505.85" r="8.75" fill="#c4bf00" stroke="#000" stroke-width="2"/>
<circle cx="1271.22" cy="1531.46" r="8.75" fill="#c4bf00" stroke="#000" stroke-width="2"/>
<circle cx="1280.98" cy="1525.37" r="8.75" fill="#c4bf00" stroke="#000" stroke-width="2"/>
<circle cx="1274.88" cy="1518.05" r="8.75" fill="#c4bf00" stroke="#000" stroke-width="2"/>
<circle cx="1291.95" cy="1535.12" r="8.75" fill="#c4bf00" stroke="#000" stroke-width="2"/>
<path d="M1222.93 1381.46V1497.8M1212.2 1381.46H1233.41M1212.2 1497.8H1233.41M1202.44 1439.51H1241.95" stroke="#000" stroke-width="2" fill="none" />
<path d="M1281.46 1507.56V1528.54M1270.73 1507.56H1291.46M1270.73 1528.54H1291.46M1260.98 1518.05H1301.71" stroke="#000" stroke-width="2" fill="none" />
<line x1="1125.37" y1="1302.93" x2="1125.37" y2="1599.1" stroke="#000" stroke-width="2.1"/>
<line x1="1115.61" y1="1598.05" x2="1322.44" y2="1598.05" stroke="#000" stroke-width="2.1"/>
<line x1="1115.61" y1="1304.63" x2="1125.37" y2="1304.63" stroke="#000" stroke-width="2.1"/>
<text x="1111.46" y="1315.44" font-size="24.6" text-anchor="end" >4</text>
<line x1="1115.61" y1="1378.05" x2="1125.37" y2="1378.05" stroke="#000" stroke-width="2.1"/>
<text x="1111.46" y="1388.86" font-size="24.6" text-anchor="end" >3</text>
<line x1="1115.61" y1="1451.22" x2="1125.37" y2="1451.22" stroke="#000" stroke-width="2.1"/>
<text x="1111.46" y="1462.03" font-size="24.6" text-anchor="end" >2</text>
<line x1="1115.61" y1="1524.63" x2="1125.37" y2="1524.63" stroke="#000" stroke-width="2.1"/>
<text x="1111.46" y="1535.44" font-size="24.6" text-anchor="end" >1</text>
<line x1="1115.61" y1="1598.05" x2="1125.37" y2="1598.05" stroke="#000" stroke-width="2.1"/>
<text x="1111.46" y="1608.86" font-size="24.6" text-anchor="end" >0</text>
<line x1="1222.93" y1="1598.05" x2="1222.93" y2="1607.55" stroke="#000" stroke-width="2.1"/>
<line x1="1280.98" y1="1598.05" x2="1280.98" y2="1607.55" stroke="#000" stroke-width="2.1"/>
<line x1="1125.37" y1="1598.05" x2="1125.37" y2="1601.37" stroke="#000" stroke-width="2.1"/>
<path d="M1220 1318.54V1303.9H1283.41V1318.54" stroke="#000" stroke-width="1.9" fill="none" />
<text x="1198.78" y="1289.27" font-size="24" text-anchor="start" xml:space="preserve"><tspan font-style="italic">P</tspan><tspan dx="4">= 0.0016</tspan></text>
<text x="1063.5" y="1461.3" font-size="24.4" text-anchor="middle" transform="rotate(-90 1063.5 1461.3)" >Polyp size (mm²)</text>
<circle cx="1529.02" cy="1598.05" r="8.75" fill="#d9d9d9" stroke="#000" stroke-width="2"/>
<circle cx="1550.24" cy="1598.05" r="8.75" fill="#d9d9d9" stroke="#000" stroke-width="2"/>
<circle cx="1533.41" cy="1598.05" r="8.75" fill="#d9d9d9" stroke="#000" stroke-width="2"/>
<circle cx="1546.59" cy="1598.05" r="8.75" fill="#d9d9d9" stroke="#000" stroke-width="2"/>
<circle cx="1541.95" cy="1598.05" r="8.75" fill="#d9d9d9" stroke="#000" stroke-width="2"/>
<circle cx="1537.56" cy="1598.05" r="8.75" fill="#d9d9d9" stroke="#000" stroke-width="2"/>
<circle cx="1587.56" cy="1358.78" r="8.75" fill="#ff0000" stroke="#000" stroke-width="2"/>
<circle cx="1598.54" cy="1357.8" r="8.75" fill="#ff0000" stroke="#000" stroke-width="2"/>
<circle cx="1609.51" cy="1363.17" r="8.75" fill="#ff0000" stroke="#000" stroke-width="2"/>
<circle cx="1598.54" cy="1389.27" r="8.75" fill="#ff0000" stroke="#000" stroke-width="2"/>
<circle cx="1598.54" cy="1460.73" r="8.75" fill="#ff0000" stroke="#000" stroke-width="2"/>
<circle cx="1653.9" cy="1401.46" r="8.75" fill="#c4bf00" stroke="#000" stroke-width="2"/>
<circle cx="1660.73" cy="1408.29" r="8.75" fill="#c4bf00" stroke="#000" stroke-width="2"/>
<circle cx="1646.1" cy="1468.78" r="8.75" fill="#c4bf00" stroke="#000" stroke-width="2"/>
<circle cx="1646.1" cy="1486.34" r="8.75" fill="#c4bf00" stroke="#000" stroke-width="2"/>
<circle cx="1669.27" cy="1485.12" r="8.75" fill="#c4bf00" stroke="#000" stroke-width="2"/>
<circle cx="1653.41" cy="1482.68" r="8.75" fill="#c4bf00" stroke="#000" stroke-width="2"/>
<circle cx="1660.73" cy="1489.51" r="8.75" fill="#c4bf00" stroke="#000" stroke-width="2"/>
<circle cx="1660.73" cy="1513.17" r="8.75" fill="#c4bf00" stroke="#000" stroke-width="2"/>
<circle cx="1653.9" cy="1520.49" r="8.75" fill="#c4bf00" stroke="#000" stroke-width="2"/>
<path d="M1598.54 1342.44V1429.27M1588.05 1342.44H1608.78M1588.05 1429.27H1608.78M1578.29 1385.85H1618.78" stroke="#000" stroke-width="2" fill="none" />
<path d="M1657.07 1431.46V1513.66M1646.83 1431.46H1667.56M1646.83 1513.66H1667.56M1637.07 1472.93H1677.8" stroke="#000" stroke-width="2" fill="none" />
<line x1="1500.24" y1="1301.46" x2="1500.24" y2="1599.1" stroke="#000" stroke-width="2.1"/>
<line x1="1490.73" y1="1598.05" x2="1698.54" y2="1598.05" stroke="#000" stroke-width="2.1"/>
<line x1="1490.73" y1="1303.41" x2="1500.24" y2="1303.41" stroke="#000" stroke-width="2.1"/>
<text x="1483.66" y="1314.22" font-size="24.6" text-anchor="end" >25</text>
<line x1="1490.73" y1="1362.44" x2="1500.24" y2="1362.44" stroke="#000" stroke-width="2.1"/>
<text x="1483.66" y="1373.25" font-size="24.6" text-anchor="end" >20</text>
<line x1="1490.73" y1="1421.22" x2="1500.24" y2="1421.22" stroke="#000" stroke-width="2.1"/>
<text x="1483.66" y="1432.03" font-size="24.6" text-anchor="end" >15</text>
<line x1="1490.73" y1="1480.24" x2="1500.24" y2="1480.24" stroke="#000" stroke-width="2.1"/>
<text x="1483.66" y="1491.05" font-size="24.6" text-anchor="end" >10</text>
<line x1="1490.73" y1="1539.02" x2="1500.24" y2="1539.02" stroke="#000" stroke-width="2.1"/>
<text x="1483.66" y="1549.83" font-size="24.6" text-anchor="end" >5</text>
<line x1="1490.73" y1="1598.05" x2="1500.24" y2="1598.05" stroke="#000" stroke-width="2.1"/>
<text x="1483.66" y="1608.86" font-size="24.6" text-anchor="end" >0</text>
<line x1="1598.54" y1="1598.05" x2="1598.54" y2="1607.55" stroke="#000" stroke-width="2.1"/>
<line x1="1657.07" y1="1598.05" x2="1657.07" y2="1607.55" stroke="#000" stroke-width="2.1"/>
<line x1="1500.24" y1="1598.05" x2="1500.24" y2="1601.37" stroke="#000" stroke-width="2.1"/>
<path d="M1595.37 1318.54V1303.9H1656.34V1318.54" stroke="#000" stroke-width="1.9" fill="none" />
<text x="1572.44" y="1289.27" font-size="24" text-anchor="start" xml:space="preserve"><tspan font-style="italic">P</tspan><tspan dx="4">= 0.0031</tspan></text>
<text x="1439.5" y="1457.1" font-size="24.4" text-anchor="middle" transform="rotate(-90 1439.5 1457.1)" >Tumor load</text>
<text x="4" y="30.5" font-size="40" text-anchor="start" >a</text>
<text x="488" y="30.5" font-size="40" text-anchor="start" >b</text>
<text x="1200" y="31.5" font-size="40" text-anchor="start" >c</text>
<text x="-1" y="450.5" font-size="40" text-anchor="start" >d</text>
<text x="579" y="451.5" font-size="40" text-anchor="start" >e</text>
<text x="1.5" y="884.5" font-size="40" text-anchor="start" >i</text>
<text x="623.5" y="884.5" font-size="40" text-anchor="start" >f</text>
<text x="981" y="884.5" font-size="40" text-anchor="start" >g</text>
<text x="1354.5" y="884.5" font-size="40" text-anchor="start" >h</text>
<text x="608.5" y="1279.5" font-size="40" text-anchor="start" >j</text>
<text x="980" y="1287.5" font-size="40" text-anchor="start" >k</text>
<text x="1354" y="1287.5" font-size="40" text-anchor="start" >l</text>
</svg>
</body>
</html>
